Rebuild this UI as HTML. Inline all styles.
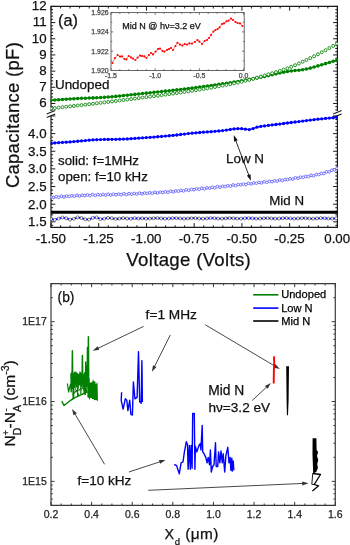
<!DOCTYPE html>
<html><head><meta charset="utf-8"><style>
html,body{margin:0;padding:0;background:#fff;width:350px;height:545px;overflow:hidden}
svg{display:block;will-change:transform}
text{font-family:"Liberation Sans", sans-serif}
</style></head><body>
<svg xmlns="http://www.w3.org/2000/svg" width="350" height="545" viewBox="0 0 350 545" font-family='"Liberation Sans", sans-serif'>
<rect width="350" height="545" fill="#fff"/>
<line x1="51" y1="6.4" x2="337.4" y2="6.4" stroke="#1a1a1a" stroke-width="1.2" />
<line x1="51" y1="227.4" x2="337.4" y2="227.4" stroke="#1a1a1a" stroke-width="1.2" />
<line x1="51" y1="5.8" x2="51" y2="111" stroke="#1a1a1a" stroke-width="1.2" />
<line x1="51" y1="115.6" x2="51" y2="228" stroke="#1a1a1a" stroke-width="1.2" />
<line x1="337.4" y1="5.8" x2="337.4" y2="111" stroke="#1a1a1a" stroke-width="1.2" />
<line x1="337.4" y1="115.6" x2="337.4" y2="228" stroke="#1a1a1a" stroke-width="1.2" />
<line x1="46.7" y1="113.9" x2="55.2" y2="110.4" stroke="#1a1a1a" stroke-width="1.1" />
<line x1="46.7" y1="117.5" x2="55.2" y2="113.9" stroke="#1a1a1a" stroke-width="1.1" />
<line x1="333.1" y1="113.9" x2="341.6" y2="110.4" stroke="#1a1a1a" stroke-width="1.1" />
<line x1="333.1" y1="117.5" x2="341.6" y2="113.9" stroke="#1a1a1a" stroke-width="1.1" />
<line x1="51" y1="227.4" x2="51" y2="223.1" stroke="#1a1a1a" stroke-width="1" />
<line x1="51" y1="6.4" x2="51" y2="10.7" stroke="#1a1a1a" stroke-width="1" />
<line x1="60.55" y1="227.4" x2="60.55" y2="225.3" stroke="#1a1a1a" stroke-width="1" />
<line x1="60.55" y1="6.4" x2="60.55" y2="8.5" stroke="#1a1a1a" stroke-width="1" />
<line x1="70.09" y1="227.4" x2="70.09" y2="225.3" stroke="#1a1a1a" stroke-width="1" />
<line x1="70.09" y1="6.4" x2="70.09" y2="8.5" stroke="#1a1a1a" stroke-width="1" />
<line x1="79.64" y1="227.4" x2="79.64" y2="225.3" stroke="#1a1a1a" stroke-width="1" />
<line x1="79.64" y1="6.4" x2="79.64" y2="8.5" stroke="#1a1a1a" stroke-width="1" />
<line x1="89.19" y1="227.4" x2="89.19" y2="225.3" stroke="#1a1a1a" stroke-width="1" />
<line x1="89.19" y1="6.4" x2="89.19" y2="8.5" stroke="#1a1a1a" stroke-width="1" />
<line x1="98.73" y1="227.4" x2="98.73" y2="223.1" stroke="#1a1a1a" stroke-width="1" />
<line x1="98.73" y1="6.4" x2="98.73" y2="10.7" stroke="#1a1a1a" stroke-width="1" />
<line x1="108.28" y1="227.4" x2="108.28" y2="225.3" stroke="#1a1a1a" stroke-width="1" />
<line x1="108.28" y1="6.4" x2="108.28" y2="8.5" stroke="#1a1a1a" stroke-width="1" />
<line x1="117.83" y1="227.4" x2="117.83" y2="225.3" stroke="#1a1a1a" stroke-width="1" />
<line x1="117.83" y1="6.4" x2="117.83" y2="8.5" stroke="#1a1a1a" stroke-width="1" />
<line x1="127.37" y1="227.4" x2="127.37" y2="225.3" stroke="#1a1a1a" stroke-width="1" />
<line x1="127.37" y1="6.4" x2="127.37" y2="8.5" stroke="#1a1a1a" stroke-width="1" />
<line x1="136.92" y1="227.4" x2="136.92" y2="225.3" stroke="#1a1a1a" stroke-width="1" />
<line x1="136.92" y1="6.4" x2="136.92" y2="8.5" stroke="#1a1a1a" stroke-width="1" />
<line x1="146.47" y1="227.4" x2="146.47" y2="223.1" stroke="#1a1a1a" stroke-width="1" />
<line x1="146.47" y1="6.4" x2="146.47" y2="10.7" stroke="#1a1a1a" stroke-width="1" />
<line x1="156.01" y1="227.4" x2="156.01" y2="225.3" stroke="#1a1a1a" stroke-width="1" />
<line x1="156.01" y1="6.4" x2="156.01" y2="8.5" stroke="#1a1a1a" stroke-width="1" />
<line x1="165.56" y1="227.4" x2="165.56" y2="225.3" stroke="#1a1a1a" stroke-width="1" />
<line x1="165.56" y1="6.4" x2="165.56" y2="8.5" stroke="#1a1a1a" stroke-width="1" />
<line x1="175.11" y1="227.4" x2="175.11" y2="225.3" stroke="#1a1a1a" stroke-width="1" />
<line x1="175.11" y1="6.4" x2="175.11" y2="8.5" stroke="#1a1a1a" stroke-width="1" />
<line x1="184.65" y1="227.4" x2="184.65" y2="225.3" stroke="#1a1a1a" stroke-width="1" />
<line x1="184.65" y1="6.4" x2="184.65" y2="8.5" stroke="#1a1a1a" stroke-width="1" />
<line x1="194.2" y1="227.4" x2="194.2" y2="223.1" stroke="#1a1a1a" stroke-width="1" />
<line x1="194.2" y1="6.4" x2="194.2" y2="10.7" stroke="#1a1a1a" stroke-width="1" />
<line x1="203.75" y1="227.4" x2="203.75" y2="225.3" stroke="#1a1a1a" stroke-width="1" />
<line x1="203.75" y1="6.4" x2="203.75" y2="8.5" stroke="#1a1a1a" stroke-width="1" />
<line x1="213.29" y1="227.4" x2="213.29" y2="225.3" stroke="#1a1a1a" stroke-width="1" />
<line x1="213.29" y1="6.4" x2="213.29" y2="8.5" stroke="#1a1a1a" stroke-width="1" />
<line x1="222.84" y1="227.4" x2="222.84" y2="225.3" stroke="#1a1a1a" stroke-width="1" />
<line x1="222.84" y1="6.4" x2="222.84" y2="8.5" stroke="#1a1a1a" stroke-width="1" />
<line x1="232.39" y1="227.4" x2="232.39" y2="225.3" stroke="#1a1a1a" stroke-width="1" />
<line x1="232.39" y1="6.4" x2="232.39" y2="8.5" stroke="#1a1a1a" stroke-width="1" />
<line x1="241.93" y1="227.4" x2="241.93" y2="223.1" stroke="#1a1a1a" stroke-width="1" />
<line x1="241.93" y1="6.4" x2="241.93" y2="10.7" stroke="#1a1a1a" stroke-width="1" />
<line x1="251.48" y1="227.4" x2="251.48" y2="225.3" stroke="#1a1a1a" stroke-width="1" />
<line x1="251.48" y1="6.4" x2="251.48" y2="8.5" stroke="#1a1a1a" stroke-width="1" />
<line x1="261.03" y1="227.4" x2="261.03" y2="225.3" stroke="#1a1a1a" stroke-width="1" />
<line x1="261.03" y1="6.4" x2="261.03" y2="8.5" stroke="#1a1a1a" stroke-width="1" />
<line x1="270.57" y1="227.4" x2="270.57" y2="225.3" stroke="#1a1a1a" stroke-width="1" />
<line x1="270.57" y1="6.4" x2="270.57" y2="8.5" stroke="#1a1a1a" stroke-width="1" />
<line x1="280.12" y1="227.4" x2="280.12" y2="225.3" stroke="#1a1a1a" stroke-width="1" />
<line x1="280.12" y1="6.4" x2="280.12" y2="8.5" stroke="#1a1a1a" stroke-width="1" />
<line x1="289.67" y1="227.4" x2="289.67" y2="223.1" stroke="#1a1a1a" stroke-width="1" />
<line x1="289.67" y1="6.4" x2="289.67" y2="10.7" stroke="#1a1a1a" stroke-width="1" />
<line x1="299.21" y1="227.4" x2="299.21" y2="225.3" stroke="#1a1a1a" stroke-width="1" />
<line x1="299.21" y1="6.4" x2="299.21" y2="8.5" stroke="#1a1a1a" stroke-width="1" />
<line x1="308.76" y1="227.4" x2="308.76" y2="225.3" stroke="#1a1a1a" stroke-width="1" />
<line x1="308.76" y1="6.4" x2="308.76" y2="8.5" stroke="#1a1a1a" stroke-width="1" />
<line x1="318.31" y1="227.4" x2="318.31" y2="225.3" stroke="#1a1a1a" stroke-width="1" />
<line x1="318.31" y1="6.4" x2="318.31" y2="8.5" stroke="#1a1a1a" stroke-width="1" />
<line x1="327.85" y1="227.4" x2="327.85" y2="225.3" stroke="#1a1a1a" stroke-width="1" />
<line x1="327.85" y1="6.4" x2="327.85" y2="8.5" stroke="#1a1a1a" stroke-width="1" />
<line x1="337.4" y1="227.4" x2="337.4" y2="223.1" stroke="#1a1a1a" stroke-width="1" />
<line x1="337.4" y1="6.4" x2="337.4" y2="10.7" stroke="#1a1a1a" stroke-width="1" />
<line x1="51" y1="6.4" x2="55.3" y2="6.4" stroke="#1a1a1a" stroke-width="1" />
<line x1="337.4" y1="6.4" x2="333.1" y2="6.4" stroke="#1a1a1a" stroke-width="1" />
<line x1="51" y1="9.64" x2="53.1" y2="9.64" stroke="#1a1a1a" stroke-width="1" />
<line x1="337.4" y1="9.64" x2="335.3" y2="9.64" stroke="#1a1a1a" stroke-width="1" />
<line x1="51" y1="12.87" x2="53.1" y2="12.87" stroke="#1a1a1a" stroke-width="1" />
<line x1="337.4" y1="12.87" x2="335.3" y2="12.87" stroke="#1a1a1a" stroke-width="1" />
<line x1="51" y1="16.11" x2="53.1" y2="16.11" stroke="#1a1a1a" stroke-width="1" />
<line x1="337.4" y1="16.11" x2="335.3" y2="16.11" stroke="#1a1a1a" stroke-width="1" />
<line x1="51" y1="19.34" x2="53.1" y2="19.34" stroke="#1a1a1a" stroke-width="1" />
<line x1="337.4" y1="19.34" x2="335.3" y2="19.34" stroke="#1a1a1a" stroke-width="1" />
<line x1="51" y1="22.58" x2="55.3" y2="22.58" stroke="#1a1a1a" stroke-width="1" />
<line x1="337.4" y1="22.58" x2="333.1" y2="22.58" stroke="#1a1a1a" stroke-width="1" />
<line x1="51" y1="25.82" x2="53.1" y2="25.82" stroke="#1a1a1a" stroke-width="1" />
<line x1="337.4" y1="25.82" x2="335.3" y2="25.82" stroke="#1a1a1a" stroke-width="1" />
<line x1="51" y1="29.05" x2="53.1" y2="29.05" stroke="#1a1a1a" stroke-width="1" />
<line x1="337.4" y1="29.05" x2="335.3" y2="29.05" stroke="#1a1a1a" stroke-width="1" />
<line x1="51" y1="32.29" x2="53.1" y2="32.29" stroke="#1a1a1a" stroke-width="1" />
<line x1="337.4" y1="32.29" x2="335.3" y2="32.29" stroke="#1a1a1a" stroke-width="1" />
<line x1="51" y1="35.52" x2="53.1" y2="35.52" stroke="#1a1a1a" stroke-width="1" />
<line x1="337.4" y1="35.52" x2="335.3" y2="35.52" stroke="#1a1a1a" stroke-width="1" />
<line x1="51" y1="38.76" x2="55.3" y2="38.76" stroke="#1a1a1a" stroke-width="1" />
<line x1="337.4" y1="38.76" x2="333.1" y2="38.76" stroke="#1a1a1a" stroke-width="1" />
<line x1="51" y1="42" x2="53.1" y2="42" stroke="#1a1a1a" stroke-width="1" />
<line x1="337.4" y1="42" x2="335.3" y2="42" stroke="#1a1a1a" stroke-width="1" />
<line x1="51" y1="45.23" x2="53.1" y2="45.23" stroke="#1a1a1a" stroke-width="1" />
<line x1="337.4" y1="45.23" x2="335.3" y2="45.23" stroke="#1a1a1a" stroke-width="1" />
<line x1="51" y1="48.47" x2="53.1" y2="48.47" stroke="#1a1a1a" stroke-width="1" />
<line x1="337.4" y1="48.47" x2="335.3" y2="48.47" stroke="#1a1a1a" stroke-width="1" />
<line x1="51" y1="51.7" x2="53.1" y2="51.7" stroke="#1a1a1a" stroke-width="1" />
<line x1="337.4" y1="51.7" x2="335.3" y2="51.7" stroke="#1a1a1a" stroke-width="1" />
<line x1="51" y1="54.94" x2="55.3" y2="54.94" stroke="#1a1a1a" stroke-width="1" />
<line x1="337.4" y1="54.94" x2="333.1" y2="54.94" stroke="#1a1a1a" stroke-width="1" />
<line x1="51" y1="58.18" x2="53.1" y2="58.18" stroke="#1a1a1a" stroke-width="1" />
<line x1="337.4" y1="58.18" x2="335.3" y2="58.18" stroke="#1a1a1a" stroke-width="1" />
<line x1="51" y1="61.41" x2="53.1" y2="61.41" stroke="#1a1a1a" stroke-width="1" />
<line x1="337.4" y1="61.41" x2="335.3" y2="61.41" stroke="#1a1a1a" stroke-width="1" />
<line x1="51" y1="64.65" x2="53.1" y2="64.65" stroke="#1a1a1a" stroke-width="1" />
<line x1="337.4" y1="64.65" x2="335.3" y2="64.65" stroke="#1a1a1a" stroke-width="1" />
<line x1="51" y1="67.88" x2="53.1" y2="67.88" stroke="#1a1a1a" stroke-width="1" />
<line x1="337.4" y1="67.88" x2="335.3" y2="67.88" stroke="#1a1a1a" stroke-width="1" />
<line x1="51" y1="71.12" x2="55.3" y2="71.12" stroke="#1a1a1a" stroke-width="1" />
<line x1="337.4" y1="71.12" x2="333.1" y2="71.12" stroke="#1a1a1a" stroke-width="1" />
<line x1="51" y1="74.36" x2="53.1" y2="74.36" stroke="#1a1a1a" stroke-width="1" />
<line x1="337.4" y1="74.36" x2="335.3" y2="74.36" stroke="#1a1a1a" stroke-width="1" />
<line x1="51" y1="77.59" x2="53.1" y2="77.59" stroke="#1a1a1a" stroke-width="1" />
<line x1="337.4" y1="77.59" x2="335.3" y2="77.59" stroke="#1a1a1a" stroke-width="1" />
<line x1="51" y1="80.83" x2="53.1" y2="80.83" stroke="#1a1a1a" stroke-width="1" />
<line x1="337.4" y1="80.83" x2="335.3" y2="80.83" stroke="#1a1a1a" stroke-width="1" />
<line x1="51" y1="84.06" x2="53.1" y2="84.06" stroke="#1a1a1a" stroke-width="1" />
<line x1="337.4" y1="84.06" x2="335.3" y2="84.06" stroke="#1a1a1a" stroke-width="1" />
<line x1="51" y1="87.3" x2="55.3" y2="87.3" stroke="#1a1a1a" stroke-width="1" />
<line x1="337.4" y1="87.3" x2="333.1" y2="87.3" stroke="#1a1a1a" stroke-width="1" />
<line x1="51" y1="90.54" x2="53.1" y2="90.54" stroke="#1a1a1a" stroke-width="1" />
<line x1="337.4" y1="90.54" x2="335.3" y2="90.54" stroke="#1a1a1a" stroke-width="1" />
<line x1="51" y1="93.77" x2="53.1" y2="93.77" stroke="#1a1a1a" stroke-width="1" />
<line x1="337.4" y1="93.77" x2="335.3" y2="93.77" stroke="#1a1a1a" stroke-width="1" />
<line x1="51" y1="97.01" x2="53.1" y2="97.01" stroke="#1a1a1a" stroke-width="1" />
<line x1="337.4" y1="97.01" x2="335.3" y2="97.01" stroke="#1a1a1a" stroke-width="1" />
<line x1="51" y1="100.24" x2="53.1" y2="100.24" stroke="#1a1a1a" stroke-width="1" />
<line x1="337.4" y1="100.24" x2="335.3" y2="100.24" stroke="#1a1a1a" stroke-width="1" />
<line x1="51" y1="103.48" x2="55.3" y2="103.48" stroke="#1a1a1a" stroke-width="1" />
<line x1="337.4" y1="103.48" x2="333.1" y2="103.48" stroke="#1a1a1a" stroke-width="1" />
<line x1="51" y1="106.72" x2="53.1" y2="106.72" stroke="#1a1a1a" stroke-width="1" />
<line x1="337.4" y1="106.72" x2="335.3" y2="106.72" stroke="#1a1a1a" stroke-width="1" />
<line x1="51" y1="109.95" x2="53.1" y2="109.95" stroke="#1a1a1a" stroke-width="1" />
<line x1="337.4" y1="109.95" x2="335.3" y2="109.95" stroke="#1a1a1a" stroke-width="1" />
<line x1="51" y1="115.95" x2="55.3" y2="115.95" stroke="#1a1a1a" stroke-width="1" />
<line x1="337.4" y1="115.95" x2="333.1" y2="115.95" stroke="#1a1a1a" stroke-width="1" />
<line x1="51" y1="119.48" x2="53.1" y2="119.48" stroke="#1a1a1a" stroke-width="1" />
<line x1="337.4" y1="119.48" x2="335.3" y2="119.48" stroke="#1a1a1a" stroke-width="1" />
<line x1="51" y1="123.01" x2="53.1" y2="123.01" stroke="#1a1a1a" stroke-width="1" />
<line x1="337.4" y1="123.01" x2="335.3" y2="123.01" stroke="#1a1a1a" stroke-width="1" />
<line x1="51" y1="126.54" x2="53.1" y2="126.54" stroke="#1a1a1a" stroke-width="1" />
<line x1="337.4" y1="126.54" x2="335.3" y2="126.54" stroke="#1a1a1a" stroke-width="1" />
<line x1="51" y1="130.07" x2="53.1" y2="130.07" stroke="#1a1a1a" stroke-width="1" />
<line x1="337.4" y1="130.07" x2="335.3" y2="130.07" stroke="#1a1a1a" stroke-width="1" />
<line x1="51" y1="133.6" x2="55.3" y2="133.6" stroke="#1a1a1a" stroke-width="1" />
<line x1="337.4" y1="133.6" x2="333.1" y2="133.6" stroke="#1a1a1a" stroke-width="1" />
<line x1="51" y1="137.13" x2="53.1" y2="137.13" stroke="#1a1a1a" stroke-width="1" />
<line x1="337.4" y1="137.13" x2="335.3" y2="137.13" stroke="#1a1a1a" stroke-width="1" />
<line x1="51" y1="140.66" x2="53.1" y2="140.66" stroke="#1a1a1a" stroke-width="1" />
<line x1="337.4" y1="140.66" x2="335.3" y2="140.66" stroke="#1a1a1a" stroke-width="1" />
<line x1="51" y1="144.19" x2="53.1" y2="144.19" stroke="#1a1a1a" stroke-width="1" />
<line x1="337.4" y1="144.19" x2="335.3" y2="144.19" stroke="#1a1a1a" stroke-width="1" />
<line x1="51" y1="147.72" x2="53.1" y2="147.72" stroke="#1a1a1a" stroke-width="1" />
<line x1="337.4" y1="147.72" x2="335.3" y2="147.72" stroke="#1a1a1a" stroke-width="1" />
<line x1="51" y1="151.25" x2="55.3" y2="151.25" stroke="#1a1a1a" stroke-width="1" />
<line x1="337.4" y1="151.25" x2="333.1" y2="151.25" stroke="#1a1a1a" stroke-width="1" />
<line x1="51" y1="154.78" x2="53.1" y2="154.78" stroke="#1a1a1a" stroke-width="1" />
<line x1="337.4" y1="154.78" x2="335.3" y2="154.78" stroke="#1a1a1a" stroke-width="1" />
<line x1="51" y1="158.31" x2="53.1" y2="158.31" stroke="#1a1a1a" stroke-width="1" />
<line x1="337.4" y1="158.31" x2="335.3" y2="158.31" stroke="#1a1a1a" stroke-width="1" />
<line x1="51" y1="161.84" x2="53.1" y2="161.84" stroke="#1a1a1a" stroke-width="1" />
<line x1="337.4" y1="161.84" x2="335.3" y2="161.84" stroke="#1a1a1a" stroke-width="1" />
<line x1="51" y1="165.37" x2="53.1" y2="165.37" stroke="#1a1a1a" stroke-width="1" />
<line x1="337.4" y1="165.37" x2="335.3" y2="165.37" stroke="#1a1a1a" stroke-width="1" />
<line x1="51" y1="168.9" x2="55.3" y2="168.9" stroke="#1a1a1a" stroke-width="1" />
<line x1="337.4" y1="168.9" x2="333.1" y2="168.9" stroke="#1a1a1a" stroke-width="1" />
<line x1="51" y1="172.43" x2="53.1" y2="172.43" stroke="#1a1a1a" stroke-width="1" />
<line x1="337.4" y1="172.43" x2="335.3" y2="172.43" stroke="#1a1a1a" stroke-width="1" />
<line x1="51" y1="175.96" x2="53.1" y2="175.96" stroke="#1a1a1a" stroke-width="1" />
<line x1="337.4" y1="175.96" x2="335.3" y2="175.96" stroke="#1a1a1a" stroke-width="1" />
<line x1="51" y1="179.49" x2="53.1" y2="179.49" stroke="#1a1a1a" stroke-width="1" />
<line x1="337.4" y1="179.49" x2="335.3" y2="179.49" stroke="#1a1a1a" stroke-width="1" />
<line x1="51" y1="183.02" x2="53.1" y2="183.02" stroke="#1a1a1a" stroke-width="1" />
<line x1="337.4" y1="183.02" x2="335.3" y2="183.02" stroke="#1a1a1a" stroke-width="1" />
<line x1="51" y1="186.55" x2="55.3" y2="186.55" stroke="#1a1a1a" stroke-width="1" />
<line x1="337.4" y1="186.55" x2="333.1" y2="186.55" stroke="#1a1a1a" stroke-width="1" />
<line x1="51" y1="190.08" x2="53.1" y2="190.08" stroke="#1a1a1a" stroke-width="1" />
<line x1="337.4" y1="190.08" x2="335.3" y2="190.08" stroke="#1a1a1a" stroke-width="1" />
<line x1="51" y1="193.61" x2="53.1" y2="193.61" stroke="#1a1a1a" stroke-width="1" />
<line x1="337.4" y1="193.61" x2="335.3" y2="193.61" stroke="#1a1a1a" stroke-width="1" />
<line x1="51" y1="197.14" x2="53.1" y2="197.14" stroke="#1a1a1a" stroke-width="1" />
<line x1="337.4" y1="197.14" x2="335.3" y2="197.14" stroke="#1a1a1a" stroke-width="1" />
<line x1="51" y1="200.67" x2="53.1" y2="200.67" stroke="#1a1a1a" stroke-width="1" />
<line x1="337.4" y1="200.67" x2="335.3" y2="200.67" stroke="#1a1a1a" stroke-width="1" />
<line x1="51" y1="204.2" x2="55.3" y2="204.2" stroke="#1a1a1a" stroke-width="1" />
<line x1="337.4" y1="204.2" x2="333.1" y2="204.2" stroke="#1a1a1a" stroke-width="1" />
<line x1="51" y1="207.73" x2="53.1" y2="207.73" stroke="#1a1a1a" stroke-width="1" />
<line x1="337.4" y1="207.73" x2="335.3" y2="207.73" stroke="#1a1a1a" stroke-width="1" />
<line x1="51" y1="211.26" x2="53.1" y2="211.26" stroke="#1a1a1a" stroke-width="1" />
<line x1="337.4" y1="211.26" x2="335.3" y2="211.26" stroke="#1a1a1a" stroke-width="1" />
<line x1="51" y1="214.79" x2="53.1" y2="214.79" stroke="#1a1a1a" stroke-width="1" />
<line x1="337.4" y1="214.79" x2="335.3" y2="214.79" stroke="#1a1a1a" stroke-width="1" />
<line x1="51" y1="218.32" x2="53.1" y2="218.32" stroke="#1a1a1a" stroke-width="1" />
<line x1="337.4" y1="218.32" x2="335.3" y2="218.32" stroke="#1a1a1a" stroke-width="1" />
<line x1="51" y1="221.85" x2="55.3" y2="221.85" stroke="#1a1a1a" stroke-width="1" />
<line x1="337.4" y1="221.85" x2="333.1" y2="221.85" stroke="#1a1a1a" stroke-width="1" />
<line x1="51" y1="225.38" x2="53.1" y2="225.38" stroke="#1a1a1a" stroke-width="1" />
<line x1="337.4" y1="225.38" x2="335.3" y2="225.38" stroke="#1a1a1a" stroke-width="1" />
<text x="50.8" y="243.3" font-size="13.3" text-anchor="middle" fill="#111" stroke="#111" stroke-width="0.25" >-1.50</text>
<text x="98.53" y="243.3" font-size="13.3" text-anchor="middle" fill="#111" stroke="#111" stroke-width="0.25" >-1.25</text>
<text x="146.27" y="243.3" font-size="13.3" text-anchor="middle" fill="#111" stroke="#111" stroke-width="0.25" >-1.00</text>
<text x="194" y="243.3" font-size="13.3" text-anchor="middle" fill="#111" stroke="#111" stroke-width="0.25" >-0.75</text>
<text x="241.73" y="243.3" font-size="13.3" text-anchor="middle" fill="#111" stroke="#111" stroke-width="0.25" >-0.50</text>
<text x="289.47" y="243.3" font-size="13.3" text-anchor="middle" fill="#111" stroke="#111" stroke-width="0.25" >-0.25</text>
<text x="337.2" y="243.3" font-size="13.3" text-anchor="middle" fill="#111" stroke="#111" stroke-width="0.25" >0.00</text>
<text x="46.6" y="107.38" font-size="13.3" text-anchor="end" fill="#111" stroke="#111" stroke-width="0.25" >6</text>
<text x="46.6" y="91.2" font-size="13.3" text-anchor="end" fill="#111" stroke="#111" stroke-width="0.25" >7</text>
<text x="46.6" y="75.02" font-size="13.3" text-anchor="end" fill="#111" stroke="#111" stroke-width="0.25" >8</text>
<text x="46.6" y="58.84" font-size="13.3" text-anchor="end" fill="#111" stroke="#111" stroke-width="0.25" >9</text>
<text x="46.6" y="42.66" font-size="13.3" text-anchor="end" fill="#111" stroke="#111" stroke-width="0.25" >10</text>
<text x="46.6" y="26.48" font-size="13.3" text-anchor="end" fill="#111" stroke="#111" stroke-width="0.25" >11</text>
<text x="46.6" y="10.3" font-size="13.3" text-anchor="end" fill="#111" stroke="#111" stroke-width="0.25" >12</text>
<text x="46.6" y="138" font-size="13.3" text-anchor="end" fill="#111" stroke="#111" stroke-width="0.25" >4.0</text>
<text x="46.6" y="155.65" font-size="13.3" text-anchor="end" fill="#111" stroke="#111" stroke-width="0.25" >3.5</text>
<text x="46.6" y="173.3" font-size="13.3" text-anchor="end" fill="#111" stroke="#111" stroke-width="0.25" >3.0</text>
<text x="46.6" y="190.95" font-size="13.3" text-anchor="end" fill="#111" stroke="#111" stroke-width="0.25" >2.5</text>
<text x="46.6" y="208.6" font-size="13.3" text-anchor="end" fill="#111" stroke="#111" stroke-width="0.25" >2.0</text>
<text x="46.6" y="226.25" font-size="13.3" text-anchor="end" fill="#111" stroke="#111" stroke-width="0.25" >1.5</text>
<text x="126.3" y="266" font-size="18.6" text-anchor="start" fill="#111" stroke="#111" stroke-width="0.25" letter-spacing="0.33">Voltage (Volts)</text>
<text transform="translate(18.8,188.1) rotate(-90)" font-size="18.4" letter-spacing="0.32" fill="#111" stroke="#111" stroke-width="0.25">Capacitance (pF)</text>
<clipPath id="cp1"><rect x="50.6" y="0" width="287.2" height="240"/></clipPath>
<g clip-path="url(#cp1)">
<polyline points="51,100.33 54.81,100.02 58.63,99.73 62.44,99.45 66.25,99.19 70.07,98.95 73.88,98.72 77.69,98.52 81.51,98.34 85.32,98.19 89.13,98.06 92.95,97.92 96.76,97.76 100.57,97.57 104.39,97.33 108.2,97.05 112.01,96.73 115.83,96.38 119.64,96.01 123.45,95.62 127.27,95.21 131.08,94.8 134.89,94.38 138.71,93.97 142.52,93.56 146.33,93.16 150.15,92.77 153.96,92.37 157.77,91.97 161.59,91.57 165.4,91.16 169.21,90.74 173.03,90.31 176.84,89.88 180.65,89.43 184.47,88.98 188.28,88.51 192.09,88.04 195.91,87.55 199.72,87.05 203.53,86.55 207.35,86.03 211.16,85.51 214.97,84.97 218.79,84.42 222.6,83.85 226.41,83.27 230.23,82.68 234.04,82.08 237.85,81.46 241.67,80.82 245.48,80.14 249.29,79.42 253.11,78.68 256.92,77.92 260.73,77.16 264.55,76.39 268.36,75.6 272.17,74.74 275.99,73.86 279.8,73 283.61,72.2 287.43,71.5 291.24,70.94 295.05,70.53 298.87,70.18 302.68,69.73 306.49,69.06 310.31,68.11 314.12,67.02 317.93,65.89 321.75,64.79 325.56,63.65 329.37,62.46 333.19,61.22 337,59.94" fill="none" stroke="#008000" stroke-width="1.3" stroke-linejoin="round" />
<circle cx="51" cy="100.33" r="1.8" fill="#008000"/>
<circle cx="54.81" cy="100.02" r="1.8" fill="#008000"/>
<circle cx="58.63" cy="99.73" r="1.8" fill="#008000"/>
<circle cx="62.44" cy="99.45" r="1.8" fill="#008000"/>
<circle cx="66.25" cy="99.19" r="1.8" fill="#008000"/>
<circle cx="70.07" cy="98.95" r="1.8" fill="#008000"/>
<circle cx="73.88" cy="98.72" r="1.8" fill="#008000"/>
<circle cx="77.69" cy="98.52" r="1.8" fill="#008000"/>
<circle cx="81.51" cy="98.34" r="1.8" fill="#008000"/>
<circle cx="85.32" cy="98.19" r="1.8" fill="#008000"/>
<circle cx="89.13" cy="98.06" r="1.8" fill="#008000"/>
<circle cx="92.95" cy="97.92" r="1.8" fill="#008000"/>
<circle cx="96.76" cy="97.76" r="1.8" fill="#008000"/>
<circle cx="100.57" cy="97.57" r="1.8" fill="#008000"/>
<circle cx="104.39" cy="97.33" r="1.8" fill="#008000"/>
<circle cx="108.2" cy="97.05" r="1.8" fill="#008000"/>
<circle cx="112.01" cy="96.73" r="1.8" fill="#008000"/>
<circle cx="115.83" cy="96.38" r="1.8" fill="#008000"/>
<circle cx="119.64" cy="96.01" r="1.8" fill="#008000"/>
<circle cx="123.45" cy="95.62" r="1.8" fill="#008000"/>
<circle cx="127.27" cy="95.21" r="1.8" fill="#008000"/>
<circle cx="131.08" cy="94.8" r="1.8" fill="#008000"/>
<circle cx="134.89" cy="94.38" r="1.8" fill="#008000"/>
<circle cx="138.71" cy="93.97" r="1.8" fill="#008000"/>
<circle cx="142.52" cy="93.56" r="1.8" fill="#008000"/>
<circle cx="146.33" cy="93.16" r="1.8" fill="#008000"/>
<circle cx="150.15" cy="92.77" r="1.8" fill="#008000"/>
<circle cx="153.96" cy="92.37" r="1.8" fill="#008000"/>
<circle cx="157.77" cy="91.97" r="1.8" fill="#008000"/>
<circle cx="161.59" cy="91.57" r="1.8" fill="#008000"/>
<circle cx="165.4" cy="91.16" r="1.8" fill="#008000"/>
<circle cx="169.21" cy="90.74" r="1.8" fill="#008000"/>
<circle cx="173.03" cy="90.31" r="1.8" fill="#008000"/>
<circle cx="176.84" cy="89.88" r="1.8" fill="#008000"/>
<circle cx="180.65" cy="89.43" r="1.8" fill="#008000"/>
<circle cx="184.47" cy="88.98" r="1.8" fill="#008000"/>
<circle cx="188.28" cy="88.51" r="1.8" fill="#008000"/>
<circle cx="192.09" cy="88.04" r="1.8" fill="#008000"/>
<circle cx="195.91" cy="87.55" r="1.8" fill="#008000"/>
<circle cx="199.72" cy="87.05" r="1.8" fill="#008000"/>
<circle cx="203.53" cy="86.55" r="1.8" fill="#008000"/>
<circle cx="207.35" cy="86.03" r="1.8" fill="#008000"/>
<circle cx="211.16" cy="85.51" r="1.8" fill="#008000"/>
<circle cx="214.97" cy="84.97" r="1.8" fill="#008000"/>
<circle cx="218.79" cy="84.42" r="1.8" fill="#008000"/>
<circle cx="222.6" cy="83.85" r="1.8" fill="#008000"/>
<circle cx="226.41" cy="83.27" r="1.8" fill="#008000"/>
<circle cx="230.23" cy="82.68" r="1.8" fill="#008000"/>
<circle cx="234.04" cy="82.08" r="1.8" fill="#008000"/>
<circle cx="237.85" cy="81.46" r="1.8" fill="#008000"/>
<circle cx="241.67" cy="80.82" r="1.8" fill="#008000"/>
<circle cx="245.48" cy="80.14" r="1.8" fill="#008000"/>
<circle cx="249.29" cy="79.42" r="1.8" fill="#008000"/>
<circle cx="253.11" cy="78.68" r="1.8" fill="#008000"/>
<circle cx="256.92" cy="77.92" r="1.8" fill="#008000"/>
<circle cx="260.73" cy="77.16" r="1.8" fill="#008000"/>
<circle cx="264.55" cy="76.39" r="1.8" fill="#008000"/>
<circle cx="268.36" cy="75.6" r="1.8" fill="#008000"/>
<circle cx="272.17" cy="74.74" r="1.8" fill="#008000"/>
<circle cx="275.99" cy="73.86" r="1.8" fill="#008000"/>
<circle cx="279.8" cy="73" r="1.8" fill="#008000"/>
<circle cx="283.61" cy="72.2" r="1.8" fill="#008000"/>
<circle cx="287.43" cy="71.5" r="1.8" fill="#008000"/>
<circle cx="291.24" cy="70.94" r="1.8" fill="#008000"/>
<circle cx="295.05" cy="70.53" r="1.8" fill="#008000"/>
<circle cx="298.87" cy="70.18" r="1.8" fill="#008000"/>
<circle cx="302.68" cy="69.73" r="1.8" fill="#008000"/>
<circle cx="306.49" cy="69.06" r="1.8" fill="#008000"/>
<circle cx="310.31" cy="68.11" r="1.8" fill="#008000"/>
<circle cx="314.12" cy="67.02" r="1.8" fill="#008000"/>
<circle cx="317.93" cy="65.89" r="1.8" fill="#008000"/>
<circle cx="321.75" cy="64.79" r="1.8" fill="#008000"/>
<circle cx="325.56" cy="63.65" r="1.8" fill="#008000"/>
<circle cx="329.37" cy="62.46" r="1.8" fill="#008000"/>
<circle cx="333.19" cy="61.22" r="1.8" fill="#008000"/>
<circle cx="337" cy="59.94" r="1.8" fill="#008000"/>
<circle cx="51" cy="108.44" r="1.5" fill="#fff" stroke="#008000" stroke-width="0.85"/>
<circle cx="54.81" cy="108.04" r="1.5" fill="#fff" stroke="#008000" stroke-width="0.85"/>
<circle cx="58.63" cy="107.64" r="1.5" fill="#fff" stroke="#008000" stroke-width="0.85"/>
<circle cx="62.44" cy="107.23" r="1.5" fill="#fff" stroke="#008000" stroke-width="0.85"/>
<circle cx="66.25" cy="106.81" r="1.5" fill="#fff" stroke="#008000" stroke-width="0.85"/>
<circle cx="70.07" cy="106.39" r="1.5" fill="#fff" stroke="#008000" stroke-width="0.85"/>
<circle cx="73.88" cy="105.97" r="1.5" fill="#fff" stroke="#008000" stroke-width="0.85"/>
<circle cx="77.69" cy="105.53" r="1.5" fill="#fff" stroke="#008000" stroke-width="0.85"/>
<circle cx="81.51" cy="105.1" r="1.5" fill="#fff" stroke="#008000" stroke-width="0.85"/>
<circle cx="85.32" cy="104.65" r="1.5" fill="#fff" stroke="#008000" stroke-width="0.85"/>
<circle cx="89.13" cy="104.2" r="1.5" fill="#fff" stroke="#008000" stroke-width="0.85"/>
<circle cx="92.95" cy="103.75" r="1.5" fill="#fff" stroke="#008000" stroke-width="0.85"/>
<circle cx="96.76" cy="103.29" r="1.5" fill="#fff" stroke="#008000" stroke-width="0.85"/>
<circle cx="100.57" cy="102.83" r="1.5" fill="#fff" stroke="#008000" stroke-width="0.85"/>
<circle cx="104.39" cy="102.37" r="1.5" fill="#fff" stroke="#008000" stroke-width="0.85"/>
<circle cx="108.2" cy="101.91" r="1.5" fill="#fff" stroke="#008000" stroke-width="0.85"/>
<circle cx="112.01" cy="101.44" r="1.5" fill="#fff" stroke="#008000" stroke-width="0.85"/>
<circle cx="115.83" cy="100.98" r="1.5" fill="#fff" stroke="#008000" stroke-width="0.85"/>
<circle cx="119.64" cy="100.51" r="1.5" fill="#fff" stroke="#008000" stroke-width="0.85"/>
<circle cx="123.45" cy="100.04" r="1.5" fill="#fff" stroke="#008000" stroke-width="0.85"/>
<circle cx="127.27" cy="99.56" r="1.5" fill="#fff" stroke="#008000" stroke-width="0.85"/>
<circle cx="131.08" cy="99.08" r="1.5" fill="#fff" stroke="#008000" stroke-width="0.85"/>
<circle cx="134.89" cy="98.6" r="1.5" fill="#fff" stroke="#008000" stroke-width="0.85"/>
<circle cx="138.71" cy="98.12" r="1.5" fill="#fff" stroke="#008000" stroke-width="0.85"/>
<circle cx="142.52" cy="97.62" r="1.5" fill="#fff" stroke="#008000" stroke-width="0.85"/>
<circle cx="146.33" cy="97.13" r="1.5" fill="#fff" stroke="#008000" stroke-width="0.85"/>
<circle cx="150.15" cy="96.63" r="1.5" fill="#fff" stroke="#008000" stroke-width="0.85"/>
<circle cx="153.96" cy="96.13" r="1.5" fill="#fff" stroke="#008000" stroke-width="0.85"/>
<circle cx="157.77" cy="95.63" r="1.5" fill="#fff" stroke="#008000" stroke-width="0.85"/>
<circle cx="161.59" cy="95.13" r="1.5" fill="#fff" stroke="#008000" stroke-width="0.85"/>
<circle cx="165.4" cy="94.62" r="1.5" fill="#fff" stroke="#008000" stroke-width="0.85"/>
<circle cx="169.21" cy="94.11" r="1.5" fill="#fff" stroke="#008000" stroke-width="0.85"/>
<circle cx="173.03" cy="93.58" r="1.5" fill="#fff" stroke="#008000" stroke-width="0.85"/>
<circle cx="176.84" cy="93.05" r="1.5" fill="#fff" stroke="#008000" stroke-width="0.85"/>
<circle cx="180.65" cy="92.5" r="1.5" fill="#fff" stroke="#008000" stroke-width="0.85"/>
<circle cx="184.47" cy="91.94" r="1.5" fill="#fff" stroke="#008000" stroke-width="0.85"/>
<circle cx="188.28" cy="91.37" r="1.5" fill="#fff" stroke="#008000" stroke-width="0.85"/>
<circle cx="192.09" cy="90.77" r="1.5" fill="#fff" stroke="#008000" stroke-width="0.85"/>
<circle cx="195.91" cy="90.17" r="1.5" fill="#fff" stroke="#008000" stroke-width="0.85"/>
<circle cx="199.72" cy="89.56" r="1.5" fill="#fff" stroke="#008000" stroke-width="0.85"/>
<circle cx="203.53" cy="88.95" r="1.5" fill="#fff" stroke="#008000" stroke-width="0.85"/>
<circle cx="207.35" cy="88.32" r="1.5" fill="#fff" stroke="#008000" stroke-width="0.85"/>
<circle cx="211.16" cy="87.67" r="1.5" fill="#fff" stroke="#008000" stroke-width="0.85"/>
<circle cx="214.97" cy="87.01" r="1.5" fill="#fff" stroke="#008000" stroke-width="0.85"/>
<circle cx="218.79" cy="86.33" r="1.5" fill="#fff" stroke="#008000" stroke-width="0.85"/>
<circle cx="222.6" cy="85.62" r="1.5" fill="#fff" stroke="#008000" stroke-width="0.85"/>
<circle cx="226.41" cy="84.9" r="1.5" fill="#fff" stroke="#008000" stroke-width="0.85"/>
<circle cx="230.23" cy="84.15" r="1.5" fill="#fff" stroke="#008000" stroke-width="0.85"/>
<circle cx="234.04" cy="83.37" r="1.5" fill="#fff" stroke="#008000" stroke-width="0.85"/>
<circle cx="237.85" cy="82.57" r="1.5" fill="#fff" stroke="#008000" stroke-width="0.85"/>
<circle cx="241.67" cy="81.73" r="1.5" fill="#fff" stroke="#008000" stroke-width="0.85"/>
<circle cx="245.48" cy="80.81" r="1.5" fill="#fff" stroke="#008000" stroke-width="0.85"/>
<circle cx="249.29" cy="79.84" r="1.5" fill="#fff" stroke="#008000" stroke-width="0.85"/>
<circle cx="253.11" cy="78.81" r="1.5" fill="#fff" stroke="#008000" stroke-width="0.85"/>
<circle cx="256.92" cy="77.74" r="1.5" fill="#fff" stroke="#008000" stroke-width="0.85"/>
<circle cx="260.73" cy="76.65" r="1.5" fill="#fff" stroke="#008000" stroke-width="0.85"/>
<circle cx="264.55" cy="75.53" r="1.5" fill="#fff" stroke="#008000" stroke-width="0.85"/>
<circle cx="268.36" cy="74.41" r="1.5" fill="#fff" stroke="#008000" stroke-width="0.85"/>
<circle cx="272.17" cy="73.27" r="1.5" fill="#fff" stroke="#008000" stroke-width="0.85"/>
<circle cx="275.99" cy="72.1" r="1.5" fill="#fff" stroke="#008000" stroke-width="0.85"/>
<circle cx="279.8" cy="70.88" r="1.5" fill="#fff" stroke="#008000" stroke-width="0.85"/>
<circle cx="283.61" cy="69.6" r="1.5" fill="#fff" stroke="#008000" stroke-width="0.85"/>
<circle cx="287.43" cy="68.26" r="1.5" fill="#fff" stroke="#008000" stroke-width="0.85"/>
<circle cx="291.24" cy="66.82" r="1.5" fill="#fff" stroke="#008000" stroke-width="0.85"/>
<circle cx="295.05" cy="65.22" r="1.5" fill="#fff" stroke="#008000" stroke-width="0.85"/>
<circle cx="298.87" cy="63.5" r="1.5" fill="#fff" stroke="#008000" stroke-width="0.85"/>
<circle cx="302.68" cy="61.73" r="1.5" fill="#fff" stroke="#008000" stroke-width="0.85"/>
<circle cx="306.49" cy="59.95" r="1.5" fill="#fff" stroke="#008000" stroke-width="0.85"/>
<circle cx="310.31" cy="58.12" r="1.5" fill="#fff" stroke="#008000" stroke-width="0.85"/>
<circle cx="314.12" cy="56.23" r="1.5" fill="#fff" stroke="#008000" stroke-width="0.85"/>
<circle cx="317.93" cy="54.28" r="1.5" fill="#fff" stroke="#008000" stroke-width="0.85"/>
<circle cx="321.75" cy="52.27" r="1.5" fill="#fff" stroke="#008000" stroke-width="0.85"/>
<circle cx="325.56" cy="50.2" r="1.5" fill="#fff" stroke="#008000" stroke-width="0.85"/>
<circle cx="329.37" cy="48.07" r="1.5" fill="#fff" stroke="#008000" stroke-width="0.85"/>
<circle cx="333.19" cy="45.89" r="1.5" fill="#fff" stroke="#008000" stroke-width="0.85"/>
<circle cx="337" cy="43.64" r="1.5" fill="#fff" stroke="#008000" stroke-width="0.85"/>
<polyline points="51,143.23 54.81,142.97 58.63,142.71 62.44,142.44 66.25,142.16 70.07,141.88 73.88,141.59 77.69,141.27 81.51,140.91 85.32,140.53 89.13,140.17 92.95,139.86 96.76,139.64 100.57,139.53 104.39,139.46 108.2,139.4 112.01,139.35 115.83,139.29 119.64,139.21 123.45,139.08 127.27,138.9 131.08,138.67 134.89,138.42 138.71,138.15 142.52,137.87 146.33,137.61 150.15,137.34 153.96,137.05 157.77,136.76 161.59,136.44 165.4,136.12 169.21,135.77 173.03,135.4 176.84,134.98 180.65,134.52 184.47,134.06 188.28,133.61 192.09,133.19 195.91,132.82 199.72,132.49 203.53,132.2 207.35,131.92 211.16,131.64 214.97,131.34 218.79,131.01 222.6,130.61 226.41,130.06 230.23,129.48 234.04,128.97 237.85,128.65 241.67,128.67 245.48,129.17 249.29,129.59 253.11,128.62 256.92,127.2 260.73,126.47 264.55,125.88 268.36,125.39 272.17,124.94 275.99,124.5 279.8,124.03 283.61,123.51 287.43,123.01 291.24,122.51 295.05,122.02 298.87,121.54 302.68,121.06 306.49,120.58 310.31,120.11 314.12,119.65 317.93,119.22 321.75,118.82 325.56,118.44 329.37,118.08 333.19,117.75 337,117.43" fill="none" stroke="#0000ff" stroke-width="1.3" stroke-linejoin="round" />
<circle cx="51" cy="143.23" r="1.65" fill="#0000ff"/>
<circle cx="54.81" cy="142.97" r="1.65" fill="#0000ff"/>
<circle cx="58.63" cy="142.71" r="1.65" fill="#0000ff"/>
<circle cx="62.44" cy="142.44" r="1.65" fill="#0000ff"/>
<circle cx="66.25" cy="142.16" r="1.65" fill="#0000ff"/>
<circle cx="70.07" cy="141.88" r="1.65" fill="#0000ff"/>
<circle cx="73.88" cy="141.59" r="1.65" fill="#0000ff"/>
<circle cx="77.69" cy="141.27" r="1.65" fill="#0000ff"/>
<circle cx="81.51" cy="140.91" r="1.65" fill="#0000ff"/>
<circle cx="85.32" cy="140.53" r="1.65" fill="#0000ff"/>
<circle cx="89.13" cy="140.17" r="1.65" fill="#0000ff"/>
<circle cx="92.95" cy="139.86" r="1.65" fill="#0000ff"/>
<circle cx="96.76" cy="139.64" r="1.65" fill="#0000ff"/>
<circle cx="100.57" cy="139.53" r="1.65" fill="#0000ff"/>
<circle cx="104.39" cy="139.46" r="1.65" fill="#0000ff"/>
<circle cx="108.2" cy="139.4" r="1.65" fill="#0000ff"/>
<circle cx="112.01" cy="139.35" r="1.65" fill="#0000ff"/>
<circle cx="115.83" cy="139.29" r="1.65" fill="#0000ff"/>
<circle cx="119.64" cy="139.21" r="1.65" fill="#0000ff"/>
<circle cx="123.45" cy="139.08" r="1.65" fill="#0000ff"/>
<circle cx="127.27" cy="138.9" r="1.65" fill="#0000ff"/>
<circle cx="131.08" cy="138.67" r="1.65" fill="#0000ff"/>
<circle cx="134.89" cy="138.42" r="1.65" fill="#0000ff"/>
<circle cx="138.71" cy="138.15" r="1.65" fill="#0000ff"/>
<circle cx="142.52" cy="137.87" r="1.65" fill="#0000ff"/>
<circle cx="146.33" cy="137.61" r="1.65" fill="#0000ff"/>
<circle cx="150.15" cy="137.34" r="1.65" fill="#0000ff"/>
<circle cx="153.96" cy="137.05" r="1.65" fill="#0000ff"/>
<circle cx="157.77" cy="136.76" r="1.65" fill="#0000ff"/>
<circle cx="161.59" cy="136.44" r="1.65" fill="#0000ff"/>
<circle cx="165.4" cy="136.12" r="1.65" fill="#0000ff"/>
<circle cx="169.21" cy="135.77" r="1.65" fill="#0000ff"/>
<circle cx="173.03" cy="135.4" r="1.65" fill="#0000ff"/>
<circle cx="176.84" cy="134.98" r="1.65" fill="#0000ff"/>
<circle cx="180.65" cy="134.52" r="1.65" fill="#0000ff"/>
<circle cx="184.47" cy="134.06" r="1.65" fill="#0000ff"/>
<circle cx="188.28" cy="133.61" r="1.65" fill="#0000ff"/>
<circle cx="192.09" cy="133.19" r="1.65" fill="#0000ff"/>
<circle cx="195.91" cy="132.82" r="1.65" fill="#0000ff"/>
<circle cx="199.72" cy="132.49" r="1.65" fill="#0000ff"/>
<circle cx="203.53" cy="132.2" r="1.65" fill="#0000ff"/>
<circle cx="207.35" cy="131.92" r="1.65" fill="#0000ff"/>
<circle cx="211.16" cy="131.64" r="1.65" fill="#0000ff"/>
<circle cx="214.97" cy="131.34" r="1.65" fill="#0000ff"/>
<circle cx="218.79" cy="131.01" r="1.65" fill="#0000ff"/>
<circle cx="222.6" cy="130.61" r="1.65" fill="#0000ff"/>
<circle cx="226.41" cy="130.06" r="1.65" fill="#0000ff"/>
<circle cx="230.23" cy="129.48" r="1.65" fill="#0000ff"/>
<circle cx="234.04" cy="128.97" r="1.65" fill="#0000ff"/>
<circle cx="237.85" cy="128.65" r="1.65" fill="#0000ff"/>
<circle cx="241.67" cy="128.67" r="1.65" fill="#0000ff"/>
<circle cx="245.48" cy="129.17" r="1.65" fill="#0000ff"/>
<circle cx="249.29" cy="129.59" r="1.65" fill="#0000ff"/>
<circle cx="253.11" cy="128.62" r="1.65" fill="#0000ff"/>
<circle cx="256.92" cy="127.2" r="1.65" fill="#0000ff"/>
<circle cx="260.73" cy="126.47" r="1.65" fill="#0000ff"/>
<circle cx="264.55" cy="125.88" r="1.65" fill="#0000ff"/>
<circle cx="268.36" cy="125.39" r="1.65" fill="#0000ff"/>
<circle cx="272.17" cy="124.94" r="1.65" fill="#0000ff"/>
<circle cx="275.99" cy="124.5" r="1.65" fill="#0000ff"/>
<circle cx="279.8" cy="124.03" r="1.65" fill="#0000ff"/>
<circle cx="283.61" cy="123.51" r="1.65" fill="#0000ff"/>
<circle cx="287.43" cy="123.01" r="1.65" fill="#0000ff"/>
<circle cx="291.24" cy="122.51" r="1.65" fill="#0000ff"/>
<circle cx="295.05" cy="122.02" r="1.65" fill="#0000ff"/>
<circle cx="298.87" cy="121.54" r="1.65" fill="#0000ff"/>
<circle cx="302.68" cy="121.06" r="1.65" fill="#0000ff"/>
<circle cx="306.49" cy="120.58" r="1.65" fill="#0000ff"/>
<circle cx="310.31" cy="120.11" r="1.65" fill="#0000ff"/>
<circle cx="314.12" cy="119.65" r="1.65" fill="#0000ff"/>
<circle cx="317.93" cy="119.22" r="1.65" fill="#0000ff"/>
<circle cx="321.75" cy="118.82" r="1.65" fill="#0000ff"/>
<circle cx="325.56" cy="118.44" r="1.65" fill="#0000ff"/>
<circle cx="329.37" cy="118.08" r="1.65" fill="#0000ff"/>
<circle cx="333.19" cy="117.75" r="1.65" fill="#0000ff"/>
<circle cx="337" cy="117.43" r="1.65" fill="#0000ff"/>
<polyline points="51,197.16 53.6,197.5 56.2,196.76 58.8,197.29 61.4,196.21 64,196.93 66.6,196.04 69.2,196.41 71.8,195.71 74.4,196.28 77,195.24 79.6,196 82.2,195.16 84.8,195.58 87.4,194.93 90,195.55 92.6,194.56 95.2,195.38 97.8,194.59 100.4,195.07 103,194.47 105.6,195.13 108.2,194.17 110.8,195.01 113.4,194.22 116,194.69 118.6,194.08 121.2,194.71 123.8,193.72 126.4,194.52 129,193.7 131.6,194.13 134.2,193.48 136.8,194.09 139.4,193.07 142,193.85 144.6,193 147.2,193.4 149.8,192.72 152.4,193.3 155,192.25 157.6,193 160.2,192.12 162.8,192.49 165.4,191.76 168,192.29 170.6,191.18 173.2,191.86 175.8,190.91 178.4,191.21 181,190.42 183.6,190.89 186.2,189.74 188.8,190.38 191.4,189.39 194,189.67 196.6,188.87 199.2,189.32 201.8,188.16 204.4,188.81 207,187.83 209.6,188.12 212.2,187.32 214.8,187.77 217.4,186.6 220,187.23 222.6,186.24 225.2,186.51 227.8,185.69 230.4,186.14 233,184.96 235.6,185.58 238.2,184.59 240.8,184.85 243.4,184.03 246,184.47 248.6,183.3 251.2,183.92 253.8,182.94 256.4,183.21 259,182.41 261.6,182.87 264.2,181.7 266.8,182.33 269.4,181.34 272,181.6 274.6,180.77 277.2,181.19 279.8,179.97 282.4,180.54 285,179.48 287.6,179.65 290.2,178.74 292.8,179.07 295.4,177.77 298,178.27 300.6,177.14 303.2,177.27 305.8,176.33 308.4,176.64 311,175.31 313.6,175.75 316.2,174.54 318.8,174.54 321.4,173.4 324,173.43 326.6,171.77 329.2,171.84 331.8,170.22 334.4,169.82 337,168.29" fill="none" stroke="#5a5aff" stroke-width="0.6" stroke-linejoin="round" />
<circle cx="51" cy="197.16" r="1.35" fill="#fff" stroke="#4848ff" stroke-width="0.7"/>
<circle cx="53.6" cy="197.5" r="1.35" fill="#fff" stroke="#4848ff" stroke-width="0.7"/>
<circle cx="56.2" cy="196.76" r="1.35" fill="#fff" stroke="#4848ff" stroke-width="0.7"/>
<circle cx="58.8" cy="197.29" r="1.35" fill="#fff" stroke="#4848ff" stroke-width="0.7"/>
<circle cx="61.4" cy="196.21" r="1.35" fill="#fff" stroke="#4848ff" stroke-width="0.7"/>
<circle cx="64" cy="196.93" r="1.35" fill="#fff" stroke="#4848ff" stroke-width="0.7"/>
<circle cx="66.6" cy="196.04" r="1.35" fill="#fff" stroke="#4848ff" stroke-width="0.7"/>
<circle cx="69.2" cy="196.41" r="1.35" fill="#fff" stroke="#4848ff" stroke-width="0.7"/>
<circle cx="71.8" cy="195.71" r="1.35" fill="#fff" stroke="#4848ff" stroke-width="0.7"/>
<circle cx="74.4" cy="196.28" r="1.35" fill="#fff" stroke="#4848ff" stroke-width="0.7"/>
<circle cx="77" cy="195.24" r="1.35" fill="#fff" stroke="#4848ff" stroke-width="0.7"/>
<circle cx="79.6" cy="196" r="1.35" fill="#fff" stroke="#4848ff" stroke-width="0.7"/>
<circle cx="82.2" cy="195.16" r="1.35" fill="#fff" stroke="#4848ff" stroke-width="0.7"/>
<circle cx="84.8" cy="195.58" r="1.35" fill="#fff" stroke="#4848ff" stroke-width="0.7"/>
<circle cx="87.4" cy="194.93" r="1.35" fill="#fff" stroke="#4848ff" stroke-width="0.7"/>
<circle cx="90" cy="195.55" r="1.35" fill="#fff" stroke="#4848ff" stroke-width="0.7"/>
<circle cx="92.6" cy="194.56" r="1.35" fill="#fff" stroke="#4848ff" stroke-width="0.7"/>
<circle cx="95.2" cy="195.38" r="1.35" fill="#fff" stroke="#4848ff" stroke-width="0.7"/>
<circle cx="97.8" cy="194.59" r="1.35" fill="#fff" stroke="#4848ff" stroke-width="0.7"/>
<circle cx="100.4" cy="195.07" r="1.35" fill="#fff" stroke="#4848ff" stroke-width="0.7"/>
<circle cx="103" cy="194.47" r="1.35" fill="#fff" stroke="#4848ff" stroke-width="0.7"/>
<circle cx="105.6" cy="195.13" r="1.35" fill="#fff" stroke="#4848ff" stroke-width="0.7"/>
<circle cx="108.2" cy="194.17" r="1.35" fill="#fff" stroke="#4848ff" stroke-width="0.7"/>
<circle cx="110.8" cy="195.01" r="1.35" fill="#fff" stroke="#4848ff" stroke-width="0.7"/>
<circle cx="113.4" cy="194.22" r="1.35" fill="#fff" stroke="#4848ff" stroke-width="0.7"/>
<circle cx="116" cy="194.69" r="1.35" fill="#fff" stroke="#4848ff" stroke-width="0.7"/>
<circle cx="118.6" cy="194.08" r="1.35" fill="#fff" stroke="#4848ff" stroke-width="0.7"/>
<circle cx="121.2" cy="194.71" r="1.35" fill="#fff" stroke="#4848ff" stroke-width="0.7"/>
<circle cx="123.8" cy="193.72" r="1.35" fill="#fff" stroke="#4848ff" stroke-width="0.7"/>
<circle cx="126.4" cy="194.52" r="1.35" fill="#fff" stroke="#4848ff" stroke-width="0.7"/>
<circle cx="129" cy="193.7" r="1.35" fill="#fff" stroke="#4848ff" stroke-width="0.7"/>
<circle cx="131.6" cy="194.13" r="1.35" fill="#fff" stroke="#4848ff" stroke-width="0.7"/>
<circle cx="134.2" cy="193.48" r="1.35" fill="#fff" stroke="#4848ff" stroke-width="0.7"/>
<circle cx="136.8" cy="194.09" r="1.35" fill="#fff" stroke="#4848ff" stroke-width="0.7"/>
<circle cx="139.4" cy="193.07" r="1.35" fill="#fff" stroke="#4848ff" stroke-width="0.7"/>
<circle cx="142" cy="193.85" r="1.35" fill="#fff" stroke="#4848ff" stroke-width="0.7"/>
<circle cx="144.6" cy="193" r="1.35" fill="#fff" stroke="#4848ff" stroke-width="0.7"/>
<circle cx="147.2" cy="193.4" r="1.35" fill="#fff" stroke="#4848ff" stroke-width="0.7"/>
<circle cx="149.8" cy="192.72" r="1.35" fill="#fff" stroke="#4848ff" stroke-width="0.7"/>
<circle cx="152.4" cy="193.3" r="1.35" fill="#fff" stroke="#4848ff" stroke-width="0.7"/>
<circle cx="155" cy="192.25" r="1.35" fill="#fff" stroke="#4848ff" stroke-width="0.7"/>
<circle cx="157.6" cy="193" r="1.35" fill="#fff" stroke="#4848ff" stroke-width="0.7"/>
<circle cx="160.2" cy="192.12" r="1.35" fill="#fff" stroke="#4848ff" stroke-width="0.7"/>
<circle cx="162.8" cy="192.49" r="1.35" fill="#fff" stroke="#4848ff" stroke-width="0.7"/>
<circle cx="165.4" cy="191.76" r="1.35" fill="#fff" stroke="#4848ff" stroke-width="0.7"/>
<circle cx="168" cy="192.29" r="1.35" fill="#fff" stroke="#4848ff" stroke-width="0.7"/>
<circle cx="170.6" cy="191.18" r="1.35" fill="#fff" stroke="#4848ff" stroke-width="0.7"/>
<circle cx="173.2" cy="191.86" r="1.35" fill="#fff" stroke="#4848ff" stroke-width="0.7"/>
<circle cx="175.8" cy="190.91" r="1.35" fill="#fff" stroke="#4848ff" stroke-width="0.7"/>
<circle cx="178.4" cy="191.21" r="1.35" fill="#fff" stroke="#4848ff" stroke-width="0.7"/>
<circle cx="181" cy="190.42" r="1.35" fill="#fff" stroke="#4848ff" stroke-width="0.7"/>
<circle cx="183.6" cy="190.89" r="1.35" fill="#fff" stroke="#4848ff" stroke-width="0.7"/>
<circle cx="186.2" cy="189.74" r="1.35" fill="#fff" stroke="#4848ff" stroke-width="0.7"/>
<circle cx="188.8" cy="190.38" r="1.35" fill="#fff" stroke="#4848ff" stroke-width="0.7"/>
<circle cx="191.4" cy="189.39" r="1.35" fill="#fff" stroke="#4848ff" stroke-width="0.7"/>
<circle cx="194" cy="189.67" r="1.35" fill="#fff" stroke="#4848ff" stroke-width="0.7"/>
<circle cx="196.6" cy="188.87" r="1.35" fill="#fff" stroke="#4848ff" stroke-width="0.7"/>
<circle cx="199.2" cy="189.32" r="1.35" fill="#fff" stroke="#4848ff" stroke-width="0.7"/>
<circle cx="201.8" cy="188.16" r="1.35" fill="#fff" stroke="#4848ff" stroke-width="0.7"/>
<circle cx="204.4" cy="188.81" r="1.35" fill="#fff" stroke="#4848ff" stroke-width="0.7"/>
<circle cx="207" cy="187.83" r="1.35" fill="#fff" stroke="#4848ff" stroke-width="0.7"/>
<circle cx="209.6" cy="188.12" r="1.35" fill="#fff" stroke="#4848ff" stroke-width="0.7"/>
<circle cx="212.2" cy="187.32" r="1.35" fill="#fff" stroke="#4848ff" stroke-width="0.7"/>
<circle cx="214.8" cy="187.77" r="1.35" fill="#fff" stroke="#4848ff" stroke-width="0.7"/>
<circle cx="217.4" cy="186.6" r="1.35" fill="#fff" stroke="#4848ff" stroke-width="0.7"/>
<circle cx="220" cy="187.23" r="1.35" fill="#fff" stroke="#4848ff" stroke-width="0.7"/>
<circle cx="222.6" cy="186.24" r="1.35" fill="#fff" stroke="#4848ff" stroke-width="0.7"/>
<circle cx="225.2" cy="186.51" r="1.35" fill="#fff" stroke="#4848ff" stroke-width="0.7"/>
<circle cx="227.8" cy="185.69" r="1.35" fill="#fff" stroke="#4848ff" stroke-width="0.7"/>
<circle cx="230.4" cy="186.14" r="1.35" fill="#fff" stroke="#4848ff" stroke-width="0.7"/>
<circle cx="233" cy="184.96" r="1.35" fill="#fff" stroke="#4848ff" stroke-width="0.7"/>
<circle cx="235.6" cy="185.58" r="1.35" fill="#fff" stroke="#4848ff" stroke-width="0.7"/>
<circle cx="238.2" cy="184.59" r="1.35" fill="#fff" stroke="#4848ff" stroke-width="0.7"/>
<circle cx="240.8" cy="184.85" r="1.35" fill="#fff" stroke="#4848ff" stroke-width="0.7"/>
<circle cx="243.4" cy="184.03" r="1.35" fill="#fff" stroke="#4848ff" stroke-width="0.7"/>
<circle cx="246" cy="184.47" r="1.35" fill="#fff" stroke="#4848ff" stroke-width="0.7"/>
<circle cx="248.6" cy="183.3" r="1.35" fill="#fff" stroke="#4848ff" stroke-width="0.7"/>
<circle cx="251.2" cy="183.92" r="1.35" fill="#fff" stroke="#4848ff" stroke-width="0.7"/>
<circle cx="253.8" cy="182.94" r="1.35" fill="#fff" stroke="#4848ff" stroke-width="0.7"/>
<circle cx="256.4" cy="183.21" r="1.35" fill="#fff" stroke="#4848ff" stroke-width="0.7"/>
<circle cx="259" cy="182.41" r="1.35" fill="#fff" stroke="#4848ff" stroke-width="0.7"/>
<circle cx="261.6" cy="182.87" r="1.35" fill="#fff" stroke="#4848ff" stroke-width="0.7"/>
<circle cx="264.2" cy="181.7" r="1.35" fill="#fff" stroke="#4848ff" stroke-width="0.7"/>
<circle cx="266.8" cy="182.33" r="1.35" fill="#fff" stroke="#4848ff" stroke-width="0.7"/>
<circle cx="269.4" cy="181.34" r="1.35" fill="#fff" stroke="#4848ff" stroke-width="0.7"/>
<circle cx="272" cy="181.6" r="1.35" fill="#fff" stroke="#4848ff" stroke-width="0.7"/>
<circle cx="274.6" cy="180.77" r="1.35" fill="#fff" stroke="#4848ff" stroke-width="0.7"/>
<circle cx="277.2" cy="181.19" r="1.35" fill="#fff" stroke="#4848ff" stroke-width="0.7"/>
<circle cx="279.8" cy="179.97" r="1.35" fill="#fff" stroke="#4848ff" stroke-width="0.7"/>
<circle cx="282.4" cy="180.54" r="1.35" fill="#fff" stroke="#4848ff" stroke-width="0.7"/>
<circle cx="285" cy="179.48" r="1.35" fill="#fff" stroke="#4848ff" stroke-width="0.7"/>
<circle cx="287.6" cy="179.65" r="1.35" fill="#fff" stroke="#4848ff" stroke-width="0.7"/>
<circle cx="290.2" cy="178.74" r="1.35" fill="#fff" stroke="#4848ff" stroke-width="0.7"/>
<circle cx="292.8" cy="179.07" r="1.35" fill="#fff" stroke="#4848ff" stroke-width="0.7"/>
<circle cx="295.4" cy="177.77" r="1.35" fill="#fff" stroke="#4848ff" stroke-width="0.7"/>
<circle cx="298" cy="178.27" r="1.35" fill="#fff" stroke="#4848ff" stroke-width="0.7"/>
<circle cx="300.6" cy="177.14" r="1.35" fill="#fff" stroke="#4848ff" stroke-width="0.7"/>
<circle cx="303.2" cy="177.27" r="1.35" fill="#fff" stroke="#4848ff" stroke-width="0.7"/>
<circle cx="305.8" cy="176.33" r="1.35" fill="#fff" stroke="#4848ff" stroke-width="0.7"/>
<circle cx="308.4" cy="176.64" r="1.35" fill="#fff" stroke="#4848ff" stroke-width="0.7"/>
<circle cx="311" cy="175.31" r="1.35" fill="#fff" stroke="#4848ff" stroke-width="0.7"/>
<circle cx="313.6" cy="175.75" r="1.35" fill="#fff" stroke="#4848ff" stroke-width="0.7"/>
<circle cx="316.2" cy="174.54" r="1.35" fill="#fff" stroke="#4848ff" stroke-width="0.7"/>
<circle cx="318.8" cy="174.54" r="1.35" fill="#fff" stroke="#4848ff" stroke-width="0.7"/>
<circle cx="321.4" cy="173.4" r="1.35" fill="#fff" stroke="#4848ff" stroke-width="0.7"/>
<circle cx="324" cy="173.43" r="1.35" fill="#fff" stroke="#4848ff" stroke-width="0.7"/>
<circle cx="326.6" cy="171.77" r="1.35" fill="#fff" stroke="#4848ff" stroke-width="0.7"/>
<circle cx="329.2" cy="171.84" r="1.35" fill="#fff" stroke="#4848ff" stroke-width="0.7"/>
<circle cx="331.8" cy="170.22" r="1.35" fill="#fff" stroke="#4848ff" stroke-width="0.7"/>
<circle cx="334.4" cy="169.82" r="1.35" fill="#fff" stroke="#4848ff" stroke-width="0.7"/>
<circle cx="337" cy="168.29" r="1.35" fill="#fff" stroke="#4848ff" stroke-width="0.7"/>
<line x1="51" y1="212.3" x2="337.4" y2="212.3" stroke="#000" stroke-width="3.0" />
<polyline points="51,219 54.8,219.8 58.6,218.6 62.4,217.5 66.2,218.2 70,219.6 73.8,218.8 77.6,217.4 81.4,218 85.2,219.3 89,219.5 92.8,217.8 96.6,217.4 100.4,219.1 104.2,218.7 108,217.9 111.8,218.2 115.6,218.9 119.4,218.6 123.2,218.1 127,218.5 130.8,218.7 134.6,218.2 138.4,218.6 142.2,218.35 146,218.62 149.8,218.57 153.6,218.27 157.4,218.16 161.2,218.4 165,218.64 168.8,218.53 172.6,218.23 176.4,218.18 180.2,218.45 184,218.65 187.8,218.48 191.6,218.19 195.4,218.21 199.2,218.51 203,218.65 206.8,218.43 210.6,218.17 214.4,218.25 218.2,218.55 222,218.63 225.8,218.37 229.6,218.15 233.4,218.3 237.2,218.59 241,218.61 244.8,218.32 248.6,218.15 252.4,218.35 256.2,218.62 260,218.57 263.8,218.27 267.6,218.16 271.4,218.4 275.2,218.64 279,218.53 282.8,218.23 286.6,218.18 290.4,218.45 294.2,218.65 298,218.48 301.8,218.19 305.6,218.21 309.4,218.51 313.2,218.65 317,218.43 320.8,218.17 324.6,218.25 328.4,218.55 332.2,218.63 336,218.37" fill="none" stroke="#2020c0" stroke-width="0.7" stroke-linejoin="round" />
<circle cx="51" cy="219" r="1.5" fill="#fff" stroke="#555" stroke-width="0.75"/>
<circle cx="54.8" cy="219.8" r="1.5" fill="#fff" stroke="#555" stroke-width="0.75"/>
<circle cx="58.6" cy="218.6" r="1.5" fill="#fff" stroke="#555" stroke-width="0.75"/>
<circle cx="62.4" cy="217.5" r="1.5" fill="#fff" stroke="#555" stroke-width="0.75"/>
<circle cx="66.2" cy="218.2" r="1.5" fill="#fff" stroke="#555" stroke-width="0.75"/>
<circle cx="70" cy="219.6" r="1.5" fill="#fff" stroke="#555" stroke-width="0.75"/>
<circle cx="73.8" cy="218.8" r="1.5" fill="#fff" stroke="#555" stroke-width="0.75"/>
<circle cx="77.6" cy="217.4" r="1.5" fill="#fff" stroke="#555" stroke-width="0.75"/>
<circle cx="81.4" cy="218" r="1.5" fill="#fff" stroke="#555" stroke-width="0.75"/>
<circle cx="85.2" cy="219.3" r="1.5" fill="#fff" stroke="#555" stroke-width="0.75"/>
<circle cx="89" cy="219.5" r="1.5" fill="#fff" stroke="#555" stroke-width="0.75"/>
<circle cx="92.8" cy="217.8" r="1.5" fill="#fff" stroke="#555" stroke-width="0.75"/>
<circle cx="96.6" cy="217.4" r="1.5" fill="#fff" stroke="#555" stroke-width="0.75"/>
<circle cx="100.4" cy="219.1" r="1.5" fill="#fff" stroke="#555" stroke-width="0.75"/>
<circle cx="104.2" cy="218.7" r="1.5" fill="#fff" stroke="#555" stroke-width="0.75"/>
<circle cx="108" cy="217.9" r="1.5" fill="#fff" stroke="#555" stroke-width="0.75"/>
<circle cx="111.8" cy="218.2" r="1.5" fill="#fff" stroke="#555" stroke-width="0.75"/>
<circle cx="115.6" cy="218.9" r="1.5" fill="#fff" stroke="#555" stroke-width="0.75"/>
<circle cx="119.4" cy="218.6" r="1.5" fill="#fff" stroke="#555" stroke-width="0.75"/>
<circle cx="123.2" cy="218.1" r="1.5" fill="#fff" stroke="#555" stroke-width="0.75"/>
<circle cx="127" cy="218.5" r="1.5" fill="#fff" stroke="#555" stroke-width="0.75"/>
<circle cx="130.8" cy="218.7" r="1.5" fill="#fff" stroke="#555" stroke-width="0.75"/>
<circle cx="134.6" cy="218.2" r="1.5" fill="#fff" stroke="#555" stroke-width="0.75"/>
<circle cx="138.4" cy="218.6" r="1.5" fill="#fff" stroke="#555" stroke-width="0.75"/>
<circle cx="142.2" cy="218.35" r="1.5" fill="#fff" stroke="#555" stroke-width="0.75"/>
<circle cx="146" cy="218.62" r="1.5" fill="#fff" stroke="#555" stroke-width="0.75"/>
<circle cx="149.8" cy="218.57" r="1.5" fill="#fff" stroke="#555" stroke-width="0.75"/>
<circle cx="153.6" cy="218.27" r="1.5" fill="#fff" stroke="#555" stroke-width="0.75"/>
<circle cx="157.4" cy="218.16" r="1.5" fill="#fff" stroke="#555" stroke-width="0.75"/>
<circle cx="161.2" cy="218.4" r="1.5" fill="#fff" stroke="#555" stroke-width="0.75"/>
<circle cx="165" cy="218.64" r="1.5" fill="#fff" stroke="#555" stroke-width="0.75"/>
<circle cx="168.8" cy="218.53" r="1.5" fill="#fff" stroke="#555" stroke-width="0.75"/>
<circle cx="172.6" cy="218.23" r="1.5" fill="#fff" stroke="#555" stroke-width="0.75"/>
<circle cx="176.4" cy="218.18" r="1.5" fill="#fff" stroke="#555" stroke-width="0.75"/>
<circle cx="180.2" cy="218.45" r="1.5" fill="#fff" stroke="#555" stroke-width="0.75"/>
<circle cx="184" cy="218.65" r="1.5" fill="#fff" stroke="#555" stroke-width="0.75"/>
<circle cx="187.8" cy="218.48" r="1.5" fill="#fff" stroke="#555" stroke-width="0.75"/>
<circle cx="191.6" cy="218.19" r="1.5" fill="#fff" stroke="#555" stroke-width="0.75"/>
<circle cx="195.4" cy="218.21" r="1.5" fill="#fff" stroke="#555" stroke-width="0.75"/>
<circle cx="199.2" cy="218.51" r="1.5" fill="#fff" stroke="#555" stroke-width="0.75"/>
<circle cx="203" cy="218.65" r="1.5" fill="#fff" stroke="#555" stroke-width="0.75"/>
<circle cx="206.8" cy="218.43" r="1.5" fill="#fff" stroke="#555" stroke-width="0.75"/>
<circle cx="210.6" cy="218.17" r="1.5" fill="#fff" stroke="#555" stroke-width="0.75"/>
<circle cx="214.4" cy="218.25" r="1.5" fill="#fff" stroke="#555" stroke-width="0.75"/>
<circle cx="218.2" cy="218.55" r="1.5" fill="#fff" stroke="#555" stroke-width="0.75"/>
<circle cx="222" cy="218.63" r="1.5" fill="#fff" stroke="#555" stroke-width="0.75"/>
<circle cx="225.8" cy="218.37" r="1.5" fill="#fff" stroke="#555" stroke-width="0.75"/>
<circle cx="229.6" cy="218.15" r="1.5" fill="#fff" stroke="#555" stroke-width="0.75"/>
<circle cx="233.4" cy="218.3" r="1.5" fill="#fff" stroke="#555" stroke-width="0.75"/>
<circle cx="237.2" cy="218.59" r="1.5" fill="#fff" stroke="#555" stroke-width="0.75"/>
<circle cx="241" cy="218.61" r="1.5" fill="#fff" stroke="#555" stroke-width="0.75"/>
<circle cx="244.8" cy="218.32" r="1.5" fill="#fff" stroke="#555" stroke-width="0.75"/>
<circle cx="248.6" cy="218.15" r="1.5" fill="#fff" stroke="#555" stroke-width="0.75"/>
<circle cx="252.4" cy="218.35" r="1.5" fill="#fff" stroke="#555" stroke-width="0.75"/>
<circle cx="256.2" cy="218.62" r="1.5" fill="#fff" stroke="#555" stroke-width="0.75"/>
<circle cx="260" cy="218.57" r="1.5" fill="#fff" stroke="#555" stroke-width="0.75"/>
<circle cx="263.8" cy="218.27" r="1.5" fill="#fff" stroke="#555" stroke-width="0.75"/>
<circle cx="267.6" cy="218.16" r="1.5" fill="#fff" stroke="#555" stroke-width="0.75"/>
<circle cx="271.4" cy="218.4" r="1.5" fill="#fff" stroke="#555" stroke-width="0.75"/>
<circle cx="275.2" cy="218.64" r="1.5" fill="#fff" stroke="#555" stroke-width="0.75"/>
<circle cx="279" cy="218.53" r="1.5" fill="#fff" stroke="#555" stroke-width="0.75"/>
<circle cx="282.8" cy="218.23" r="1.5" fill="#fff" stroke="#555" stroke-width="0.75"/>
<circle cx="286.6" cy="218.18" r="1.5" fill="#fff" stroke="#555" stroke-width="0.75"/>
<circle cx="290.4" cy="218.45" r="1.5" fill="#fff" stroke="#555" stroke-width="0.75"/>
<circle cx="294.2" cy="218.65" r="1.5" fill="#fff" stroke="#555" stroke-width="0.75"/>
<circle cx="298" cy="218.48" r="1.5" fill="#fff" stroke="#555" stroke-width="0.75"/>
<circle cx="301.8" cy="218.19" r="1.5" fill="#fff" stroke="#555" stroke-width="0.75"/>
<circle cx="305.6" cy="218.21" r="1.5" fill="#fff" stroke="#555" stroke-width="0.75"/>
<circle cx="309.4" cy="218.51" r="1.5" fill="#fff" stroke="#555" stroke-width="0.75"/>
<circle cx="313.2" cy="218.65" r="1.5" fill="#fff" stroke="#555" stroke-width="0.75"/>
<circle cx="317" cy="218.43" r="1.5" fill="#fff" stroke="#555" stroke-width="0.75"/>
<circle cx="320.8" cy="218.17" r="1.5" fill="#fff" stroke="#555" stroke-width="0.75"/>
<circle cx="324.6" cy="218.25" r="1.5" fill="#fff" stroke="#555" stroke-width="0.75"/>
<circle cx="328.4" cy="218.55" r="1.5" fill="#fff" stroke="#555" stroke-width="0.75"/>
<circle cx="332.2" cy="218.63" r="1.5" fill="#fff" stroke="#555" stroke-width="0.75"/>
<circle cx="336" cy="218.37" r="1.5" fill="#fff" stroke="#555" stroke-width="0.75"/>
<circle cx="52.9" cy="219.4" r="0.9" fill="#0000ff"/>
<circle cx="56.7" cy="219.2" r="0.9" fill="#0000ff"/>
<circle cx="60.5" cy="218.05" r="0.9" fill="#0000ff"/>
<circle cx="64.3" cy="217.85" r="0.9" fill="#0000ff"/>
<circle cx="68.1" cy="218.9" r="0.9" fill="#0000ff"/>
<circle cx="71.9" cy="219.2" r="0.9" fill="#0000ff"/>
<circle cx="75.7" cy="218.1" r="0.9" fill="#0000ff"/>
<circle cx="79.5" cy="217.7" r="0.9" fill="#0000ff"/>
<circle cx="83.3" cy="218.65" r="0.9" fill="#0000ff"/>
<circle cx="87.1" cy="219.4" r="0.9" fill="#0000ff"/>
<circle cx="90.9" cy="218.65" r="0.9" fill="#0000ff"/>
<circle cx="94.7" cy="217.6" r="0.9" fill="#0000ff"/>
<circle cx="98.5" cy="218.25" r="0.9" fill="#0000ff"/>
<circle cx="102.3" cy="218.9" r="0.9" fill="#0000ff"/>
<circle cx="106.1" cy="218.3" r="0.9" fill="#0000ff"/>
<circle cx="109.9" cy="218.05" r="0.9" fill="#0000ff"/>
<circle cx="113.7" cy="218.55" r="0.9" fill="#0000ff"/>
<circle cx="117.5" cy="218.75" r="0.9" fill="#0000ff"/>
<circle cx="121.3" cy="218.35" r="0.9" fill="#0000ff"/>
<circle cx="125.1" cy="218.3" r="0.9" fill="#0000ff"/>
<circle cx="128.9" cy="218.6" r="0.9" fill="#0000ff"/>
<circle cx="132.7" cy="218.45" r="0.9" fill="#0000ff"/>
<circle cx="136.5" cy="218.4" r="0.9" fill="#0000ff"/>
<circle cx="140.3" cy="218.47" r="0.9" fill="#0000ff"/>
<circle cx="144.1" cy="218.48" r="0.9" fill="#0000ff"/>
<circle cx="147.9" cy="218.6" r="0.9" fill="#0000ff"/>
<circle cx="151.7" cy="218.42" r="0.9" fill="#0000ff"/>
<circle cx="155.5" cy="218.22" r="0.9" fill="#0000ff"/>
<circle cx="159.3" cy="218.28" r="0.9" fill="#0000ff"/>
<circle cx="163.1" cy="218.52" r="0.9" fill="#0000ff"/>
<circle cx="166.9" cy="218.58" r="0.9" fill="#0000ff"/>
<circle cx="170.7" cy="218.38" r="0.9" fill="#0000ff"/>
<circle cx="174.5" cy="218.2" r="0.9" fill="#0000ff"/>
<circle cx="178.3" cy="218.32" r="0.9" fill="#0000ff"/>
<circle cx="182.1" cy="218.55" r="0.9" fill="#0000ff"/>
<circle cx="185.9" cy="218.56" r="0.9" fill="#0000ff"/>
<circle cx="189.7" cy="218.34" r="0.9" fill="#0000ff"/>
<circle cx="193.5" cy="218.2" r="0.9" fill="#0000ff"/>
<circle cx="197.3" cy="218.36" r="0.9" fill="#0000ff"/>
<circle cx="201.1" cy="218.58" r="0.9" fill="#0000ff"/>
<circle cx="204.9" cy="218.54" r="0.9" fill="#0000ff"/>
<circle cx="208.7" cy="218.3" r="0.9" fill="#0000ff"/>
<circle cx="212.5" cy="218.21" r="0.9" fill="#0000ff"/>
<circle cx="216.3" cy="218.4" r="0.9" fill="#0000ff"/>
<circle cx="220.1" cy="218.59" r="0.9" fill="#0000ff"/>
<circle cx="223.9" cy="218.5" r="0.9" fill="#0000ff"/>
<circle cx="227.7" cy="218.26" r="0.9" fill="#0000ff"/>
<circle cx="231.5" cy="218.22" r="0.9" fill="#0000ff"/>
<circle cx="235.3" cy="218.44" r="0.9" fill="#0000ff"/>
<circle cx="239.1" cy="218.6" r="0.9" fill="#0000ff"/>
<circle cx="242.9" cy="218.46" r="0.9" fill="#0000ff"/>
<circle cx="246.7" cy="218.24" r="0.9" fill="#0000ff"/>
<circle cx="250.5" cy="218.25" r="0.9" fill="#0000ff"/>
<circle cx="254.3" cy="218.48" r="0.9" fill="#0000ff"/>
<circle cx="258.1" cy="218.6" r="0.9" fill="#0000ff"/>
<circle cx="261.9" cy="218.42" r="0.9" fill="#0000ff"/>
<circle cx="265.7" cy="218.21" r="0.9" fill="#0000ff"/>
<circle cx="269.5" cy="218.28" r="0.9" fill="#0000ff"/>
<circle cx="273.3" cy="218.52" r="0.9" fill="#0000ff"/>
<circle cx="277.1" cy="218.58" r="0.9" fill="#0000ff"/>
<circle cx="280.9" cy="218.38" r="0.9" fill="#0000ff"/>
<circle cx="284.7" cy="218.2" r="0.9" fill="#0000ff"/>
<circle cx="288.5" cy="218.32" r="0.9" fill="#0000ff"/>
<circle cx="292.3" cy="218.55" r="0.9" fill="#0000ff"/>
<circle cx="296.1" cy="218.56" r="0.9" fill="#0000ff"/>
<circle cx="299.9" cy="218.34" r="0.9" fill="#0000ff"/>
<circle cx="303.7" cy="218.2" r="0.9" fill="#0000ff"/>
<circle cx="307.5" cy="218.36" r="0.9" fill="#0000ff"/>
<circle cx="311.3" cy="218.58" r="0.9" fill="#0000ff"/>
<circle cx="315.1" cy="218.54" r="0.9" fill="#0000ff"/>
<circle cx="318.9" cy="218.3" r="0.9" fill="#0000ff"/>
<circle cx="322.7" cy="218.21" r="0.9" fill="#0000ff"/>
<circle cx="326.5" cy="218.4" r="0.9" fill="#0000ff"/>
<circle cx="330.3" cy="218.59" r="0.9" fill="#0000ff"/>
<circle cx="334.1" cy="218.5" r="0.9" fill="#0000ff"/>
</g>
<text x="58" y="26.4" font-size="16.3" text-anchor="start" fill="#111" stroke="#111" stroke-width="0.25" >(a)</text>
<text x="55" y="89" font-size="13.4" text-anchor="start" fill="#111" stroke="#111" stroke-width="0.25" >Undoped</text>
<text x="58" y="165" font-size="13.3" text-anchor="start" fill="#111" stroke="#111" stroke-width="0.25" >solid: f=1MHz</text>
<text x="58" y="180.6" font-size="13.3" text-anchor="start" fill="#111" stroke="#111" stroke-width="0.25" >open: f=10 kHz</text>
<text x="226" y="163.1" font-size="13.4" text-anchor="start" fill="#111" stroke="#111" stroke-width="0.25" >Low N</text>
<text x="269.3" y="204.6" font-size="13.3" text-anchor="start" fill="#111" stroke="#111" stroke-width="0.25" >Mid N</text>
<line x1="235.48" y1="139.82" x2="249.12" y2="176.08" stroke="#111" stroke-width="0.9" />
<polygon points="250.9,180.8 246.86,175.59 250.51,174.22" fill="#111"/>
<polygon points="233.7,135.1 234.09,141.68 237.74,140.31" fill="#111"/>
<rect x="111.0" y="12.6" width="133.2" height="57.9" fill="#fff" stroke="#555" stroke-width="0.9"/>
<line x1="111" y1="70.5" x2="111" y2="68.3" stroke="#555" stroke-width="0.8" />
<line x1="111" y1="12.6" x2="111" y2="14.8" stroke="#555" stroke-width="0.8" />
<line x1="119.84" y1="70.5" x2="119.84" y2="69.2" stroke="#555" stroke-width="0.8" />
<line x1="119.84" y1="12.6" x2="119.84" y2="13.9" stroke="#555" stroke-width="0.8" />
<line x1="128.68" y1="70.5" x2="128.68" y2="69.2" stroke="#555" stroke-width="0.8" />
<line x1="128.68" y1="12.6" x2="128.68" y2="13.9" stroke="#555" stroke-width="0.8" />
<line x1="137.52" y1="70.5" x2="137.52" y2="69.2" stroke="#555" stroke-width="0.8" />
<line x1="137.52" y1="12.6" x2="137.52" y2="13.9" stroke="#555" stroke-width="0.8" />
<line x1="146.36" y1="70.5" x2="146.36" y2="69.2" stroke="#555" stroke-width="0.8" />
<line x1="146.36" y1="12.6" x2="146.36" y2="13.9" stroke="#555" stroke-width="0.8" />
<line x1="155.2" y1="70.5" x2="155.2" y2="68.3" stroke="#555" stroke-width="0.8" />
<line x1="155.2" y1="12.6" x2="155.2" y2="14.8" stroke="#555" stroke-width="0.8" />
<line x1="164.04" y1="70.5" x2="164.04" y2="69.2" stroke="#555" stroke-width="0.8" />
<line x1="164.04" y1="12.6" x2="164.04" y2="13.9" stroke="#555" stroke-width="0.8" />
<line x1="172.88" y1="70.5" x2="172.88" y2="69.2" stroke="#555" stroke-width="0.8" />
<line x1="172.88" y1="12.6" x2="172.88" y2="13.9" stroke="#555" stroke-width="0.8" />
<line x1="181.72" y1="70.5" x2="181.72" y2="69.2" stroke="#555" stroke-width="0.8" />
<line x1="181.72" y1="12.6" x2="181.72" y2="13.9" stroke="#555" stroke-width="0.8" />
<line x1="190.56" y1="70.5" x2="190.56" y2="69.2" stroke="#555" stroke-width="0.8" />
<line x1="190.56" y1="12.6" x2="190.56" y2="13.9" stroke="#555" stroke-width="0.8" />
<line x1="199.4" y1="70.5" x2="199.4" y2="68.3" stroke="#555" stroke-width="0.8" />
<line x1="199.4" y1="12.6" x2="199.4" y2="14.8" stroke="#555" stroke-width="0.8" />
<line x1="208.24" y1="70.5" x2="208.24" y2="69.2" stroke="#555" stroke-width="0.8" />
<line x1="208.24" y1="12.6" x2="208.24" y2="13.9" stroke="#555" stroke-width="0.8" />
<line x1="217.08" y1="70.5" x2="217.08" y2="69.2" stroke="#555" stroke-width="0.8" />
<line x1="217.08" y1="12.6" x2="217.08" y2="13.9" stroke="#555" stroke-width="0.8" />
<line x1="225.92" y1="70.5" x2="225.92" y2="69.2" stroke="#555" stroke-width="0.8" />
<line x1="225.92" y1="12.6" x2="225.92" y2="13.9" stroke="#555" stroke-width="0.8" />
<line x1="234.76" y1="70.5" x2="234.76" y2="69.2" stroke="#555" stroke-width="0.8" />
<line x1="234.76" y1="12.6" x2="234.76" y2="13.9" stroke="#555" stroke-width="0.8" />
<line x1="243.6" y1="70.5" x2="243.6" y2="68.3" stroke="#555" stroke-width="0.8" />
<line x1="243.6" y1="12.6" x2="243.6" y2="14.8" stroke="#555" stroke-width="0.8" />
<line x1="111" y1="70.5" x2="113.2" y2="70.5" stroke="#555" stroke-width="0.8" />
<line x1="244.2" y1="70.5" x2="242" y2="70.5" stroke="#555" stroke-width="0.8" />
<line x1="111" y1="60.85" x2="112.3" y2="60.85" stroke="#555" stroke-width="0.8" />
<line x1="244.2" y1="60.85" x2="242.9" y2="60.85" stroke="#555" stroke-width="0.8" />
<line x1="111" y1="51.2" x2="113.2" y2="51.2" stroke="#555" stroke-width="0.8" />
<line x1="244.2" y1="51.2" x2="242" y2="51.2" stroke="#555" stroke-width="0.8" />
<line x1="111" y1="41.55" x2="112.3" y2="41.55" stroke="#555" stroke-width="0.8" />
<line x1="244.2" y1="41.55" x2="242.9" y2="41.55" stroke="#555" stroke-width="0.8" />
<line x1="111" y1="31.9" x2="113.2" y2="31.9" stroke="#555" stroke-width="0.8" />
<line x1="244.2" y1="31.9" x2="242" y2="31.9" stroke="#555" stroke-width="0.8" />
<line x1="111" y1="22.25" x2="112.3" y2="22.25" stroke="#555" stroke-width="0.8" />
<line x1="244.2" y1="22.25" x2="242.9" y2="22.25" stroke="#555" stroke-width="0.8" />
<line x1="111" y1="12.6" x2="113.2" y2="12.6" stroke="#555" stroke-width="0.8" />
<line x1="244.2" y1="12.6" x2="242" y2="12.6" stroke="#555" stroke-width="0.8" />
<text x="108.6" y="73" font-size="6.9" text-anchor="end" fill="#444" stroke="#444" stroke-width="0.25" >1.920</text>
<text x="108.6" y="53.7" font-size="6.9" text-anchor="end" fill="#444" stroke="#444" stroke-width="0.25" >1.922</text>
<text x="108.6" y="34.4" font-size="6.9" text-anchor="end" fill="#444" stroke="#444" stroke-width="0.25" >1.924</text>
<text x="108.6" y="15.1" font-size="6.9" text-anchor="end" fill="#444" stroke="#444" stroke-width="0.25" >1.926</text>
<text x="111" y="77.6" font-size="6.9" text-anchor="middle" fill="#444" stroke="#444" stroke-width="0.25" >-1.5</text>
<text x="155.2" y="77.6" font-size="6.9" text-anchor="middle" fill="#444" stroke="#444" stroke-width="0.25" >-1.0</text>
<text x="199.4" y="77.6" font-size="6.9" text-anchor="middle" fill="#444" stroke="#444" stroke-width="0.25" >-0.5</text>
<text x="243.6" y="77.6" font-size="6.9" text-anchor="middle" fill="#444" stroke="#444" stroke-width="0.25" >0.0</text>
<text x="122.3" y="29.3" font-size="9" text-anchor="start" fill="#111" stroke="#111" stroke-width="0.25" >Mid N @ h&#957;=3.2 eV</text>
<polyline points="112.4,63 115,58 117.6,55 120,56.6 122,56.4 124.4,59 126.4,59.4 128.6,56 131,57.4 133,58.6 135.4,60 137.6,57.6 140,55.6 142,56 144.4,56.4 146.4,58 149,55 151,53 153,54.4 155.6,51.6 158,49 160,48.6 162.4,51 164.4,51.6 167,50 169,49 171,48 173,50 175.4,46 177.4,42.8 180,44.6 182.4,45.6 184.6,44 187,44.6 189.4,43.4 192,43.6 195,42 197.4,40 199.4,41.6 202,44 204.6,41 207,40 209,38 211,35 213.4,31.6 215.4,30 217.6,29 219.6,27.4 222,24 224,23.4 226.4,21.4 228.6,20.6 231,18.6 233,20 235.4,22 237.6,23 240,23.4 242.4,26" fill="none" stroke="#ff2020" stroke-width="0.6" stroke-linejoin="round" />
<circle cx="112.4" cy="63" r="1.05" fill="#ff0000"/>
<circle cx="115" cy="58" r="1.05" fill="#ff0000"/>
<circle cx="117.6" cy="55" r="1.05" fill="#ff0000"/>
<circle cx="120" cy="56.6" r="1.05" fill="#ff0000"/>
<circle cx="122" cy="56.4" r="1.05" fill="#ff0000"/>
<circle cx="124.4" cy="59" r="1.05" fill="#ff0000"/>
<circle cx="126.4" cy="59.4" r="1.05" fill="#ff0000"/>
<circle cx="128.6" cy="56" r="1.05" fill="#ff0000"/>
<circle cx="131" cy="57.4" r="1.05" fill="#ff0000"/>
<circle cx="133" cy="58.6" r="1.05" fill="#ff0000"/>
<circle cx="135.4" cy="60" r="1.05" fill="#ff0000"/>
<circle cx="137.6" cy="57.6" r="1.05" fill="#ff0000"/>
<circle cx="140" cy="55.6" r="1.05" fill="#ff0000"/>
<circle cx="142" cy="56" r="1.05" fill="#ff0000"/>
<circle cx="144.4" cy="56.4" r="1.05" fill="#ff0000"/>
<circle cx="146.4" cy="58" r="1.05" fill="#ff0000"/>
<circle cx="149" cy="55" r="1.05" fill="#ff0000"/>
<circle cx="151" cy="53" r="1.05" fill="#ff0000"/>
<circle cx="153" cy="54.4" r="1.05" fill="#ff0000"/>
<circle cx="155.6" cy="51.6" r="1.05" fill="#ff0000"/>
<circle cx="158" cy="49" r="1.05" fill="#ff0000"/>
<circle cx="160" cy="48.6" r="1.05" fill="#ff0000"/>
<circle cx="162.4" cy="51" r="1.05" fill="#ff0000"/>
<circle cx="164.4" cy="51.6" r="1.05" fill="#ff0000"/>
<circle cx="167" cy="50" r="1.05" fill="#ff0000"/>
<circle cx="169" cy="49" r="1.05" fill="#ff0000"/>
<circle cx="171" cy="48" r="1.05" fill="#ff0000"/>
<circle cx="173" cy="50" r="1.05" fill="#ff0000"/>
<circle cx="175.4" cy="46" r="1.05" fill="#ff0000"/>
<circle cx="177.4" cy="42.8" r="1.05" fill="#ff0000"/>
<circle cx="180" cy="44.6" r="1.05" fill="#ff0000"/>
<circle cx="182.4" cy="45.6" r="1.05" fill="#ff0000"/>
<circle cx="184.6" cy="44" r="1.05" fill="#ff0000"/>
<circle cx="187" cy="44.6" r="1.05" fill="#ff0000"/>
<circle cx="189.4" cy="43.4" r="1.05" fill="#ff0000"/>
<circle cx="192" cy="43.6" r="1.05" fill="#ff0000"/>
<circle cx="195" cy="42" r="1.05" fill="#ff0000"/>
<circle cx="197.4" cy="40" r="1.05" fill="#ff0000"/>
<circle cx="199.4" cy="41.6" r="1.05" fill="#ff0000"/>
<circle cx="202" cy="44" r="1.05" fill="#ff0000"/>
<circle cx="204.6" cy="41" r="1.05" fill="#ff0000"/>
<circle cx="207" cy="40" r="1.05" fill="#ff0000"/>
<circle cx="209" cy="38" r="1.05" fill="#ff0000"/>
<circle cx="211" cy="35" r="1.05" fill="#ff0000"/>
<circle cx="213.4" cy="31.6" r="1.05" fill="#ff0000"/>
<circle cx="215.4" cy="30" r="1.05" fill="#ff0000"/>
<circle cx="217.6" cy="29" r="1.05" fill="#ff0000"/>
<circle cx="219.6" cy="27.4" r="1.05" fill="#ff0000"/>
<circle cx="222" cy="24" r="1.05" fill="#ff0000"/>
<circle cx="224" cy="23.4" r="1.05" fill="#ff0000"/>
<circle cx="226.4" cy="21.4" r="1.05" fill="#ff0000"/>
<circle cx="228.6" cy="20.6" r="1.05" fill="#ff0000"/>
<circle cx="231" cy="18.6" r="1.05" fill="#ff0000"/>
<circle cx="233" cy="20" r="1.05" fill="#ff0000"/>
<circle cx="235.4" cy="22" r="1.05" fill="#ff0000"/>
<circle cx="237.6" cy="23" r="1.05" fill="#ff0000"/>
<circle cx="240" cy="23.4" r="1.05" fill="#ff0000"/>
<circle cx="242.4" cy="26" r="1.05" fill="#ff0000"/>
<line x1="51" y1="283.6" x2="335.3" y2="283.6" stroke="#3a3a3a" stroke-width="1.2" />
<line x1="51" y1="505.4" x2="335.3" y2="505.4" stroke="#3a3a3a" stroke-width="1.2" />
<line x1="51" y1="283" x2="51" y2="506" stroke="#3a3a3a" stroke-width="1.2" />
<line x1="335.3" y1="283" x2="335.3" y2="506" stroke="#3a3a3a" stroke-width="1.2" />
<line x1="51" y1="505.4" x2="51" y2="501.8" stroke="#3a3a3a" stroke-width="1" />
<line x1="51" y1="283.6" x2="51" y2="287.2" stroke="#3a3a3a" stroke-width="1" />
<line x1="61.15" y1="505.4" x2="61.15" y2="503.5" stroke="#3a3a3a" stroke-width="1" />
<line x1="61.15" y1="283.6" x2="61.15" y2="285.5" stroke="#3a3a3a" stroke-width="1" />
<line x1="71.31" y1="505.4" x2="71.31" y2="503.5" stroke="#3a3a3a" stroke-width="1" />
<line x1="71.31" y1="283.6" x2="71.31" y2="285.5" stroke="#3a3a3a" stroke-width="1" />
<line x1="81.46" y1="505.4" x2="81.46" y2="503.5" stroke="#3a3a3a" stroke-width="1" />
<line x1="81.46" y1="283.6" x2="81.46" y2="285.5" stroke="#3a3a3a" stroke-width="1" />
<line x1="91.61" y1="505.4" x2="91.61" y2="501.8" stroke="#3a3a3a" stroke-width="1" />
<line x1="91.61" y1="283.6" x2="91.61" y2="287.2" stroke="#3a3a3a" stroke-width="1" />
<line x1="101.77" y1="505.4" x2="101.77" y2="503.5" stroke="#3a3a3a" stroke-width="1" />
<line x1="101.77" y1="283.6" x2="101.77" y2="285.5" stroke="#3a3a3a" stroke-width="1" />
<line x1="111.92" y1="505.4" x2="111.92" y2="503.5" stroke="#3a3a3a" stroke-width="1" />
<line x1="111.92" y1="283.6" x2="111.92" y2="285.5" stroke="#3a3a3a" stroke-width="1" />
<line x1="122.08" y1="505.4" x2="122.08" y2="503.5" stroke="#3a3a3a" stroke-width="1" />
<line x1="122.08" y1="283.6" x2="122.08" y2="285.5" stroke="#3a3a3a" stroke-width="1" />
<line x1="132.23" y1="505.4" x2="132.23" y2="501.8" stroke="#3a3a3a" stroke-width="1" />
<line x1="132.23" y1="283.6" x2="132.23" y2="287.2" stroke="#3a3a3a" stroke-width="1" />
<line x1="142.38" y1="505.4" x2="142.38" y2="503.5" stroke="#3a3a3a" stroke-width="1" />
<line x1="142.38" y1="283.6" x2="142.38" y2="285.5" stroke="#3a3a3a" stroke-width="1" />
<line x1="152.54" y1="505.4" x2="152.54" y2="503.5" stroke="#3a3a3a" stroke-width="1" />
<line x1="152.54" y1="283.6" x2="152.54" y2="285.5" stroke="#3a3a3a" stroke-width="1" />
<line x1="162.69" y1="505.4" x2="162.69" y2="503.5" stroke="#3a3a3a" stroke-width="1" />
<line x1="162.69" y1="283.6" x2="162.69" y2="285.5" stroke="#3a3a3a" stroke-width="1" />
<line x1="172.84" y1="505.4" x2="172.84" y2="501.8" stroke="#3a3a3a" stroke-width="1" />
<line x1="172.84" y1="283.6" x2="172.84" y2="287.2" stroke="#3a3a3a" stroke-width="1" />
<line x1="183" y1="505.4" x2="183" y2="503.5" stroke="#3a3a3a" stroke-width="1" />
<line x1="183" y1="283.6" x2="183" y2="285.5" stroke="#3a3a3a" stroke-width="1" />
<line x1="193.15" y1="505.4" x2="193.15" y2="503.5" stroke="#3a3a3a" stroke-width="1" />
<line x1="193.15" y1="283.6" x2="193.15" y2="285.5" stroke="#3a3a3a" stroke-width="1" />
<line x1="203.3" y1="505.4" x2="203.3" y2="503.5" stroke="#3a3a3a" stroke-width="1" />
<line x1="203.3" y1="283.6" x2="203.3" y2="285.5" stroke="#3a3a3a" stroke-width="1" />
<line x1="213.46" y1="505.4" x2="213.46" y2="501.8" stroke="#3a3a3a" stroke-width="1" />
<line x1="213.46" y1="283.6" x2="213.46" y2="287.2" stroke="#3a3a3a" stroke-width="1" />
<line x1="223.61" y1="505.4" x2="223.61" y2="503.5" stroke="#3a3a3a" stroke-width="1" />
<line x1="223.61" y1="283.6" x2="223.61" y2="285.5" stroke="#3a3a3a" stroke-width="1" />
<line x1="233.76" y1="505.4" x2="233.76" y2="503.5" stroke="#3a3a3a" stroke-width="1" />
<line x1="233.76" y1="283.6" x2="233.76" y2="285.5" stroke="#3a3a3a" stroke-width="1" />
<line x1="243.92" y1="505.4" x2="243.92" y2="503.5" stroke="#3a3a3a" stroke-width="1" />
<line x1="243.92" y1="283.6" x2="243.92" y2="285.5" stroke="#3a3a3a" stroke-width="1" />
<line x1="254.07" y1="505.4" x2="254.07" y2="501.8" stroke="#3a3a3a" stroke-width="1" />
<line x1="254.07" y1="283.6" x2="254.07" y2="287.2" stroke="#3a3a3a" stroke-width="1" />
<line x1="264.23" y1="505.4" x2="264.23" y2="503.5" stroke="#3a3a3a" stroke-width="1" />
<line x1="264.23" y1="283.6" x2="264.23" y2="285.5" stroke="#3a3a3a" stroke-width="1" />
<line x1="274.38" y1="505.4" x2="274.38" y2="503.5" stroke="#3a3a3a" stroke-width="1" />
<line x1="274.38" y1="283.6" x2="274.38" y2="285.5" stroke="#3a3a3a" stroke-width="1" />
<line x1="284.53" y1="505.4" x2="284.53" y2="503.5" stroke="#3a3a3a" stroke-width="1" />
<line x1="284.53" y1="283.6" x2="284.53" y2="285.5" stroke="#3a3a3a" stroke-width="1" />
<line x1="294.69" y1="505.4" x2="294.69" y2="501.8" stroke="#3a3a3a" stroke-width="1" />
<line x1="294.69" y1="283.6" x2="294.69" y2="287.2" stroke="#3a3a3a" stroke-width="1" />
<line x1="304.84" y1="505.4" x2="304.84" y2="503.5" stroke="#3a3a3a" stroke-width="1" />
<line x1="304.84" y1="283.6" x2="304.84" y2="285.5" stroke="#3a3a3a" stroke-width="1" />
<line x1="314.99" y1="505.4" x2="314.99" y2="503.5" stroke="#3a3a3a" stroke-width="1" />
<line x1="314.99" y1="283.6" x2="314.99" y2="285.5" stroke="#3a3a3a" stroke-width="1" />
<line x1="325.15" y1="505.4" x2="325.15" y2="503.5" stroke="#3a3a3a" stroke-width="1" />
<line x1="325.15" y1="283.6" x2="325.15" y2="285.5" stroke="#3a3a3a" stroke-width="1" />
<line x1="335.3" y1="505.4" x2="335.3" y2="501.8" stroke="#3a3a3a" stroke-width="1" />
<line x1="335.3" y1="283.6" x2="335.3" y2="287.2" stroke="#3a3a3a" stroke-width="1" />
<line x1="51" y1="505.4" x2="52.9" y2="505.4" stroke="#3a3a3a" stroke-width="1" />
<line x1="335.3" y1="505.4" x2="333.4" y2="505.4" stroke="#3a3a3a" stroke-width="1" />
<line x1="51" y1="499.08" x2="52.9" y2="499.08" stroke="#3a3a3a" stroke-width="1" />
<line x1="335.3" y1="499.08" x2="333.4" y2="499.08" stroke="#3a3a3a" stroke-width="1" />
<line x1="51" y1="493.73" x2="52.9" y2="493.73" stroke="#3a3a3a" stroke-width="1" />
<line x1="335.3" y1="493.73" x2="333.4" y2="493.73" stroke="#3a3a3a" stroke-width="1" />
<line x1="51" y1="489.1" x2="52.9" y2="489.1" stroke="#3a3a3a" stroke-width="1" />
<line x1="335.3" y1="489.1" x2="333.4" y2="489.1" stroke="#3a3a3a" stroke-width="1" />
<line x1="51" y1="485.02" x2="52.9" y2="485.02" stroke="#3a3a3a" stroke-width="1" />
<line x1="335.3" y1="485.02" x2="333.4" y2="485.02" stroke="#3a3a3a" stroke-width="1" />
<line x1="51" y1="481.37" x2="54.6" y2="481.37" stroke="#3a3a3a" stroke-width="1" />
<line x1="335.3" y1="481.37" x2="331.7" y2="481.37" stroke="#3a3a3a" stroke-width="1" />
<line x1="51" y1="457.33" x2="52.9" y2="457.33" stroke="#3a3a3a" stroke-width="1" />
<line x1="335.3" y1="457.33" x2="333.4" y2="457.33" stroke="#3a3a3a" stroke-width="1" />
<line x1="51" y1="443.27" x2="52.9" y2="443.27" stroke="#3a3a3a" stroke-width="1" />
<line x1="335.3" y1="443.27" x2="333.4" y2="443.27" stroke="#3a3a3a" stroke-width="1" />
<line x1="51" y1="433.3" x2="52.9" y2="433.3" stroke="#3a3a3a" stroke-width="1" />
<line x1="335.3" y1="433.3" x2="333.4" y2="433.3" stroke="#3a3a3a" stroke-width="1" />
<line x1="51" y1="425.56" x2="52.9" y2="425.56" stroke="#3a3a3a" stroke-width="1" />
<line x1="335.3" y1="425.56" x2="333.4" y2="425.56" stroke="#3a3a3a" stroke-width="1" />
<line x1="51" y1="419.24" x2="52.9" y2="419.24" stroke="#3a3a3a" stroke-width="1" />
<line x1="335.3" y1="419.24" x2="333.4" y2="419.24" stroke="#3a3a3a" stroke-width="1" />
<line x1="51" y1="413.9" x2="52.9" y2="413.9" stroke="#3a3a3a" stroke-width="1" />
<line x1="335.3" y1="413.9" x2="333.4" y2="413.9" stroke="#3a3a3a" stroke-width="1" />
<line x1="51" y1="409.27" x2="52.9" y2="409.27" stroke="#3a3a3a" stroke-width="1" />
<line x1="335.3" y1="409.27" x2="333.4" y2="409.27" stroke="#3a3a3a" stroke-width="1" />
<line x1="51" y1="405.18" x2="52.9" y2="405.18" stroke="#3a3a3a" stroke-width="1" />
<line x1="335.3" y1="405.18" x2="333.4" y2="405.18" stroke="#3a3a3a" stroke-width="1" />
<line x1="51" y1="401.53" x2="54.6" y2="401.53" stroke="#3a3a3a" stroke-width="1" />
<line x1="335.3" y1="401.53" x2="331.7" y2="401.53" stroke="#3a3a3a" stroke-width="1" />
<line x1="51" y1="377.5" x2="52.9" y2="377.5" stroke="#3a3a3a" stroke-width="1" />
<line x1="335.3" y1="377.5" x2="333.4" y2="377.5" stroke="#3a3a3a" stroke-width="1" />
<line x1="51" y1="363.44" x2="52.9" y2="363.44" stroke="#3a3a3a" stroke-width="1" />
<line x1="335.3" y1="363.44" x2="333.4" y2="363.44" stroke="#3a3a3a" stroke-width="1" />
<line x1="51" y1="353.46" x2="52.9" y2="353.46" stroke="#3a3a3a" stroke-width="1" />
<line x1="335.3" y1="353.46" x2="333.4" y2="353.46" stroke="#3a3a3a" stroke-width="1" />
<line x1="51" y1="345.73" x2="52.9" y2="345.73" stroke="#3a3a3a" stroke-width="1" />
<line x1="335.3" y1="345.73" x2="333.4" y2="345.73" stroke="#3a3a3a" stroke-width="1" />
<line x1="51" y1="339.4" x2="52.9" y2="339.4" stroke="#3a3a3a" stroke-width="1" />
<line x1="335.3" y1="339.4" x2="333.4" y2="339.4" stroke="#3a3a3a" stroke-width="1" />
<line x1="51" y1="334.06" x2="52.9" y2="334.06" stroke="#3a3a3a" stroke-width="1" />
<line x1="335.3" y1="334.06" x2="333.4" y2="334.06" stroke="#3a3a3a" stroke-width="1" />
<line x1="51" y1="329.43" x2="52.9" y2="329.43" stroke="#3a3a3a" stroke-width="1" />
<line x1="335.3" y1="329.43" x2="333.4" y2="329.43" stroke="#3a3a3a" stroke-width="1" />
<line x1="51" y1="325.35" x2="52.9" y2="325.35" stroke="#3a3a3a" stroke-width="1" />
<line x1="335.3" y1="325.35" x2="333.4" y2="325.35" stroke="#3a3a3a" stroke-width="1" />
<line x1="51" y1="321.69" x2="54.6" y2="321.69" stroke="#3a3a3a" stroke-width="1" />
<line x1="335.3" y1="321.69" x2="331.7" y2="321.69" stroke="#3a3a3a" stroke-width="1" />
<line x1="51" y1="297.66" x2="52.9" y2="297.66" stroke="#3a3a3a" stroke-width="1" />
<line x1="335.3" y1="297.66" x2="333.4" y2="297.66" stroke="#3a3a3a" stroke-width="1" />
<line x1="51" y1="283.6" x2="52.9" y2="283.6" stroke="#3a3a3a" stroke-width="1" />
<line x1="335.3" y1="283.6" x2="333.4" y2="283.6" stroke="#3a3a3a" stroke-width="1" />
<text x="51" y="518" font-size="10.5" text-anchor="middle" fill="#222" stroke="#222" stroke-width="0.25" >0.2</text>
<text x="91.61" y="518" font-size="10.5" text-anchor="middle" fill="#222" stroke="#222" stroke-width="0.25" >0.4</text>
<text x="132.23" y="518" font-size="10.5" text-anchor="middle" fill="#222" stroke="#222" stroke-width="0.25" >0.6</text>
<text x="172.84" y="518" font-size="10.5" text-anchor="middle" fill="#222" stroke="#222" stroke-width="0.25" >0.8</text>
<text x="213.46" y="518" font-size="10.5" text-anchor="middle" fill="#222" stroke="#222" stroke-width="0.25" >1.0</text>
<text x="254.07" y="518" font-size="10.5" text-anchor="middle" fill="#222" stroke="#222" stroke-width="0.25" >1.2</text>
<text x="294.69" y="518" font-size="10.5" text-anchor="middle" fill="#222" stroke="#222" stroke-width="0.25" >1.4</text>
<text x="335.3" y="518" font-size="10.5" text-anchor="middle" fill="#222" stroke="#222" stroke-width="0.25" >1.6</text>
<text x="46.8" y="485.07" font-size="10.5" text-anchor="end" fill="#222" stroke="#222" stroke-width="0.25" >1E15</text>
<text x="46.8" y="405.23" font-size="10.5" text-anchor="end" fill="#222" stroke="#222" stroke-width="0.25" >1E16</text>
<text x="46.8" y="325.39" font-size="10.5" text-anchor="end" fill="#222" stroke="#222" stroke-width="0.25" >1E17</text>
<text x="164.6" y="538.6" font-size="14.3" fill="#111" stroke="#111" stroke-width="0.25">X<tspan font-size="9.5" dx="0.6" dy="6.0">d</tspan><tspan dx="0.4" dy="-6.0" font-size="15.4" letter-spacing="0.45"> (&#956;m)</tspan></text>
<text transform="translate(15.4,446.4) rotate(-90)" font-size="15.5" fill="#111" stroke="#111" stroke-width="0.25">N<tspan font-size="10.5" dy="5.6">D</tspan><tspan font-size="9.5" dx="-8" dy="-12.2">+</tspan><tspan dx="1.6" dy="6.6">-N</tspan><tspan font-size="10.5" dy="5.6">A</tspan><tspan font-size="9.5" dx="-6.5" dy="-12.4">-</tspan><tspan dx="3.4" dy="6.8"> (cm</tspan><tspan font-size="10.5" dy="-6.4">-3</tspan><tspan dy="6.4">)</tspan></text>
<line x1="253.2" y1="294.8" x2="278.4" y2="294.8" stroke="#008000" stroke-width="1.6" />
<text x="281.2" y="298.4" font-size="11.1" text-anchor="start" fill="#000" stroke="#000" stroke-width="0.25" >Undoped</text>
<line x1="253.2" y1="308.1" x2="278.4" y2="308.1" stroke="#0000ff" stroke-width="1.6" />
<text x="281.2" y="311.6" font-size="11.1" text-anchor="start" fill="#000" stroke="#000" stroke-width="0.25" >Low N</text>
<line x1="253.2" y1="321" x2="278.4" y2="321" stroke="#000" stroke-width="1.6" />
<text x="281.2" y="324.8" font-size="11.1" text-anchor="start" fill="#000" stroke="#000" stroke-width="0.25" >Mid N</text>
<text x="57.6" y="301.6" font-size="13.8" text-anchor="start" fill="#111" stroke="#111" stroke-width="0.25" >(b)</text>
<text x="145.6" y="319.3" font-size="13.7" text-anchor="start" fill="#111" stroke="#111" stroke-width="0.25" >f=1 MHz</text>
<text x="208.2" y="395.1" font-size="13.8" text-anchor="start" fill="#111" stroke="#111" stroke-width="0.25" >Mid N</text>
<text x="208.5" y="412" font-size="13.6" text-anchor="start" fill="#111" stroke="#111" stroke-width="0.25" >h&#957;=3.2 eV</text>
<text x="77.6" y="484.6" font-size="13.5" text-anchor="start" fill="#111" stroke="#111" stroke-width="0.25" >f=10 kHz</text>
<polyline points="70.8,373.13 71.1,385.55 71.45,374.63 71.75,385.67 72.1,371.73 72.4,388.18 72.75,374.26 73.05,398.68 73.4,374 73.7,398.31 74.05,372.74 74.35,383.64 74.7,371.96 75,387.17 75.35,374.04 75.65,384.75 76,371.89 76.3,386.92 76.65,373.92 76.95,385.64 77.3,373.36 77.6,395.64 77.95,373.95 78.25,388.22 78.6,375.19 78.9,384.32 79.25,374.41 79.55,385.01 79.9,371.76 80.2,383.39 80.55,372.7 80.85,394.05 81.2,374.67 81.5,386.39 81.85,373.38 82.15,385.4 82.5,374.9 82.8,383.11 83.15,375.1 83.45,386.86 83.8,374.54 84.1,394.25 84.45,372.79 84.75,393.77 85.1,373.38 85.4,394.45 85.75,374.02 86.05,387.06 86.4,374.46 86.7,386.36 87.05,373.46 87.35,383.41 87.7,373.29 88,396.97 88.35,376.44 88.65,397.85" fill="none" stroke="#008000" stroke-width="1.15" stroke-linejoin="round" />
<polyline points="89,378.21 89.45,398.99 90,382.91 90.45,397.38 91,382.83 91.45,397.62 92,382.6 92.45,398.54 93,380.16 93.45,398.7 94,381.5 94.45,399.81 95,381.91 95.45,399.53 96,384.45 96.45,399.63 97,382.91 97.45,400.82" fill="none" stroke="#008000" stroke-width="1.05" stroke-linejoin="round" />
<polyline points="72.1,378 72.4,350.8 72.7,378" fill="none" stroke="#008000" stroke-width="1.5" stroke-linejoin="round" />
<polyline points="82.1,378 82.4,355.4 82.7,378" fill="none" stroke="#008000" stroke-width="1.5" stroke-linejoin="round" />
<polyline points="87.2,380 87.5,347.5 87.8,380" fill="none" stroke="#008000" stroke-width="1.5" stroke-linejoin="round" />
<polyline points="88.1,384 88.4,336.8 88.7,384" fill="none" stroke="#008000" stroke-width="1.5" stroke-linejoin="round" />
<polyline points="85.5,378 85.8,362 86.1,378" fill="none" stroke="#008000" stroke-width="1.5" stroke-linejoin="round" />
<polyline points="86.3,378 86.6,366 86.9,378" fill="none" stroke="#008000" stroke-width="1.5" stroke-linejoin="round" />
<polyline points="61.7,401.2 64,405.4 66.9,403.3 69,401.5 71.4,399.9 74.9,397.6 78.3,396.2 82.9,393.8 86.3,392.4 90,391.2 94,389.8 97.2,389.2" fill="none" stroke="#008000" stroke-width="1.4" stroke-linejoin="round" />
<polyline points="72.6,394.7 76,391 79,390 82.9,387.9" fill="none" stroke="#008000" stroke-width="1.2" stroke-linejoin="round" />
<polyline points="74,386 77,392 79.5,396" fill="none" stroke="#008000" stroke-width="1.0" stroke-linejoin="round" />
<polyline points="67.4,383.5 68.6,392 69.5,388 70.6,384 71.2,392 72,386" fill="none" stroke="#008000" stroke-width="1.2" stroke-linejoin="round" />
<polyline points="82.5,386 84,390.5 85.2,386.5 86.2,392 87.2,386" fill="none" stroke="#008000" stroke-width="1.0" stroke-linejoin="round" />
<polyline points="121.6,392.2 121.2,400.3 123.1,409.1 125.3,398.8 126.8,400.3 127.9,410.6 129.7,400.3 130.9,414.3 132.4,415 133.4,381.9 134.9,398.8 137.1,397.4 138.5,351.8 139.7,401.8 141.2,403.2 141.9,360.6 142.4,402" fill="none" stroke="#0000ff" stroke-width="1.4" stroke-linejoin="round" />
<polyline points="174.2,464.3 176.6,465.6 179.3,473.8 181.1,462.8 183,461.9 184.4,451.9 186.3,441.8 187.5,444.6 188.1,469.2 189.4,445.5 190.3,469.2 191.2,445.5 192.1,468.3 192.7,413.5 194.3,413.5 194.9,469.2 195.4,446.4 196.7,451.9 199.4,444.6 200.3,443.6 200.9,450 202.2,425.4 202.7,451.9 204,453.7 205.8,457.4 207.1,462.8 208.2,457.4 209.5,464.7 210.4,450 211.3,472 212.6,466.5 214,464.7 215.5,442.7 216.2,466.5 217.7,466.5 218.6,451.9 219.9,462.8 221,451 222.3,462.8 223.2,453.7 224.7,472 225.9,455.5 227.8,447.3 229,462.8 230.1,457.4 230.9,470.2 231.8,458.3 232.3,471.1 233.2,461 233.8,470.2" fill="none" stroke="#0000ff" stroke-width="1.4" stroke-linejoin="round" />
<polygon points="286.2,366.3 289.0,366.3 288.6,400 288.0,415.2 286.9,415.2 286.6,400" fill="#000"/>
<polygon points="312.6,438.3 316.4,438.3 316.6,450 318.1,452 317.0,456 318.3,460 317.2,464 317.9,468 316.2,472 313.2,473.5 312.5,455" fill="#000"/>
<polyline points="313,473.5 320.5,474.5 314.2,484.5 318.6,485.8 312.4,490.9" fill="none" stroke="#000" stroke-width="1.3" stroke-linejoin="round" />
<polyline points="312.8,473 311.8,484.3 314.2,484.5" fill="none" stroke="#000" stroke-width="0.9" stroke-linejoin="round" />
<line x1="143.6" y1="326.4" x2="97.34" y2="348.62" stroke="#333" stroke-width="0.9" />
<polygon points="92.8,350.8 97.63,346.31 99.32,349.83" fill="#333"/>
<line x1="170.3" y1="334.9" x2="154.15" y2="367.29" stroke="#333" stroke-width="0.9" />
<polygon points="151.9,371.8 152.97,365.29 156.46,367.03" fill="#333"/>
<line x1="205.3" y1="324.8" x2="275.47" y2="366.43" stroke="#333" stroke-width="0.9" />
<polygon points="279.8,369 273.39,367.46 275.38,364.11" fill="#333"/>
<line x1="252.1" y1="400.6" x2="267.22" y2="386.44" stroke="#333" stroke-width="0.9" />
<polygon points="270.9,383 267.63,388.73 264.97,385.88" fill="#333"/>
<line x1="104.6" y1="464.3" x2="74.56" y2="413.24" stroke="#333" stroke-width="0.9" />
<polygon points="72,408.9 76.88,413.34 73.51,415.32" fill="#333"/>
<line x1="128.9" y1="472" x2="160.71" y2="461.57" stroke="#333" stroke-width="0.9" />
<polygon points="165.5,460 160.12,463.82 158.91,460.11" fill="#333"/>
<line x1="148.3" y1="490.3" x2="303.46" y2="483.42" stroke="#333" stroke-width="0.9" />
<polygon points="308.5,483.2 302.29,485.43 302.12,481.53" fill="#333"/>
<polyline points="274,356.4 274.2,362 273.9,370 273.8,377 273.7,383.6" fill="none" stroke="#ff0000" stroke-width="1.9" stroke-linejoin="round" />
</svg>
</body></html>
